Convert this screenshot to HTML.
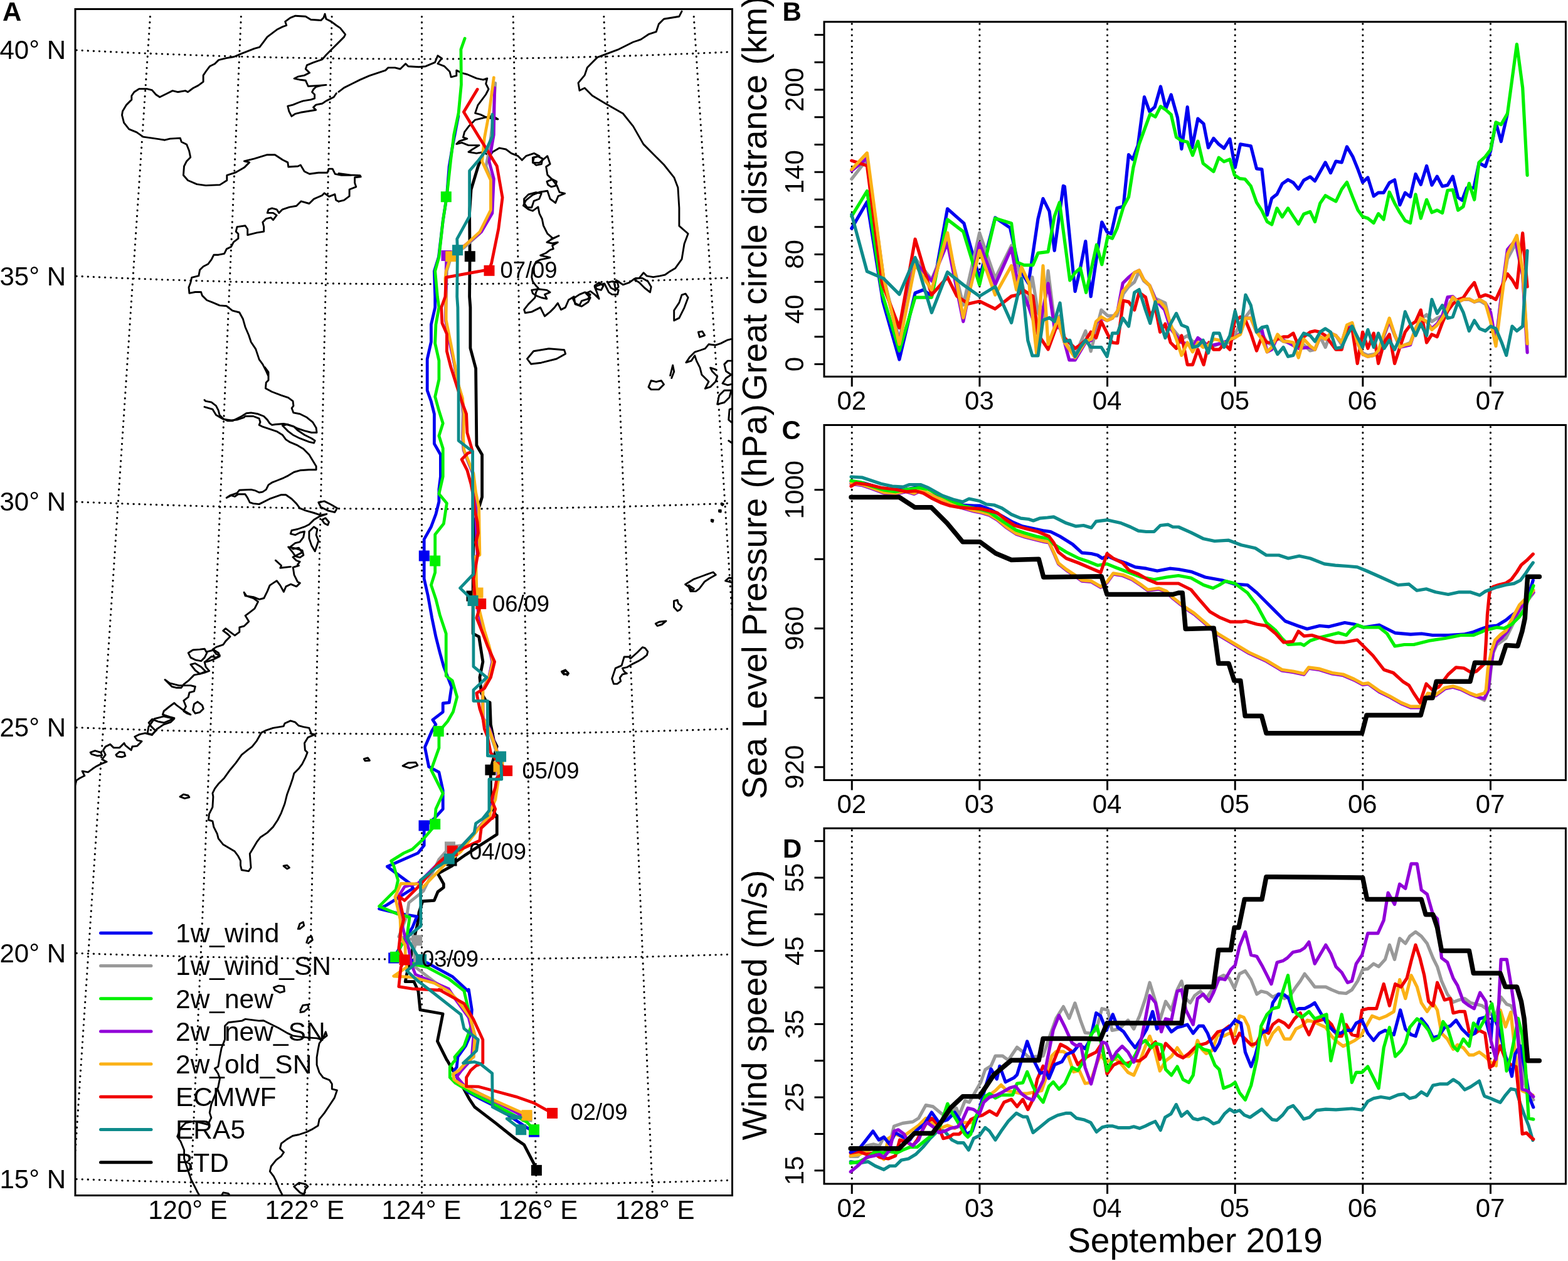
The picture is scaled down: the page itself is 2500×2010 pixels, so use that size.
<!DOCTYPE html><html><head><meta charset="utf-8"><style>html,body{margin:0;padding:0;background:#fff}svg{display:block}</style></head><body><svg xmlns="http://www.w3.org/2000/svg" width="2500" height="2010" viewBox="0 0 2500 2010">
<style>text{font-family:'Liberation Sans', Arial, Helvetica, sans-serif;fill:#000}.tl{font-size:42px}.tt{font-size:55px}.lt{font-size:42px;font-weight:bold}.lg{font-size:42.5px}.dl{font-size:36.4px}.frame{fill:none;stroke:#000;stroke-width:3}.tick{stroke:#000;stroke-width:3}.dot{stroke:#000;stroke-width:3.1;stroke-dasharray:0.3 8.8;stroke-linecap:round}.coast{fill:none;stroke:#000;stroke-width:2.9;stroke-linejoin:round;stroke-linecap:round}</style>
<rect width="2500" height="2010" fill="#fff"/>
<defs><clipPath id="clipA"><rect x="120.0" y="14.5" width="1047.5" height="1891.0"/></clipPath><clipPath id="clipT"><rect x="1314.0" y="0.0" width="1182.4" height="2010.0"/></clipPath></defs>
<g clip-path="url(#clipA)">
<polyline class="dot" fill="none" points="122.0,80.0 130.0,80.4 138.0,80.8 146.0,81.2 154.0,81.6 162.0,81.9 170.0,82.3 178.0,82.7 186.0,83.0 194.0,83.4 202.0,83.8 210.0,84.1 218.0,84.4 226.0,84.8 234.0,85.1 242.0,85.4 250.0,85.7 258.0,86.0 266.0,86.3 274.0,86.6 282.0,86.9 290.0,87.2 298.0,87.5 306.0,87.8 314.0,88.0 322.0,88.3 330.0,88.6 338.0,88.8 346.0,89.1 354.0,89.3 362.0,89.5 370.0,89.8 378.0,90.0 386.0,90.2 394.0,90.4 402.0,90.6 410.0,90.8 418.0,91.0 426.0,91.2 434.0,91.4 442.0,91.5 450.0,91.7 458.0,91.9 466.0,92.0 474.0,92.2 482.0,92.3 490.0,92.5 498.0,92.6 506.0,92.7 514.0,92.8 522.0,93.0 530.0,93.1 538.0,93.2 546.0,93.3 554.0,93.3 562.0,93.4 570.0,93.5 578.0,93.6 586.0,93.7 594.0,93.7 602.0,93.8 610.0,93.8 618.0,93.9 626.0,93.9 634.0,93.9 642.0,94.0 650.0,94.0 658.0,94.0 666.0,94.0 674.0,94.0 682.0,94.0 690.0,94.0 698.0,94.0 706.0,93.9 714.0,93.9 722.0,93.9 730.0,93.8 738.0,93.8 746.0,93.7 754.0,93.7 762.0,93.6 770.0,93.6 778.0,93.5 786.0,93.4 794.0,93.3 802.0,93.2 810.0,93.1 818.0,93.0 826.0,92.9 834.0,92.8 842.0,92.7 850.0,92.5 858.0,92.4 866.0,92.3 874.0,92.1 882.0,92.0 890.0,91.8 898.0,91.6 906.0,91.5 914.0,91.3 922.0,91.1 930.0,90.9 938.0,90.7 946.0,90.5 954.0,90.3 962.0,90.1 970.0,89.9 978.0,89.7 986.0,89.4 994.0,89.2 1002.0,89.0 1010.0,88.7 1018.0,88.5 1026.0,88.2 1034.0,87.9 1042.0,87.7 1050.0,87.4 1058.0,87.1 1066.0,86.8 1074.0,86.5 1082.0,86.2 1090.0,85.9 1098.0,85.6 1106.0,85.3 1114.0,85.0 1122.0,84.6 1130.0,84.3 1138.0,84.0 1146.0,83.6 1154.0,83.3 1162.0,82.9"/>
<polyline class="dot" fill="none" points="122.0,440.2 130.0,440.6 138.0,440.9 146.0,441.3 154.0,441.6 162.0,442.0 170.0,442.3 178.0,442.6 186.0,443.0 194.0,443.3 202.0,443.6 210.0,443.9 218.0,444.2 226.0,444.5 234.0,444.8 242.0,445.1 250.0,445.4 258.0,445.7 266.0,445.9 274.0,446.2 282.0,446.4 290.0,446.7 298.0,447.0 306.0,447.2 314.0,447.4 322.0,447.7 330.0,447.9 338.0,448.1 346.0,448.3 354.0,448.6 362.0,448.8 370.0,449.0 378.0,449.2 386.0,449.4 394.0,449.5 402.0,449.7 410.0,449.9 418.0,450.1 426.0,450.2 434.0,450.4 442.0,450.6 450.0,450.7 458.0,450.8 466.0,451.0 474.0,451.1 482.0,451.3 490.0,451.4 498.0,451.5 506.0,451.6 514.0,451.7 522.0,451.8 530.0,451.9 538.0,452.0 546.0,452.1 554.0,452.2 562.0,452.2 570.0,452.3 578.0,452.4 586.0,452.4 594.0,452.5 602.0,452.5 610.0,452.6 618.0,452.6 626.0,452.7 634.0,452.7 642.0,452.7 650.0,452.7 658.0,452.7 666.0,452.7 674.0,452.7 682.0,452.7 690.0,452.7 698.0,452.7 706.0,452.7 714.0,452.7 722.0,452.6 730.0,452.6 738.0,452.6 746.0,452.5 754.0,452.5 762.0,452.4 770.0,452.4 778.0,452.3 786.0,452.2 794.0,452.1 802.0,452.1 810.0,452.0 818.0,451.9 826.0,451.8 834.0,451.7 842.0,451.6 850.0,451.4 858.0,451.3 866.0,451.2 874.0,451.1 882.0,450.9 890.0,450.8 898.0,450.6 906.0,450.5 914.0,450.3 922.0,450.2 930.0,450.0 938.0,449.8 946.0,449.7 954.0,449.5 962.0,449.3 970.0,449.1 978.0,448.9 986.0,448.7 994.0,448.5 1002.0,448.3 1010.0,448.0 1018.0,447.8 1026.0,447.6 1034.0,447.3 1042.0,447.1 1050.0,446.9 1058.0,446.6 1066.0,446.4 1074.0,446.1 1082.0,445.8 1090.0,445.5 1098.0,445.3 1106.0,445.0 1114.0,444.7 1122.0,444.4 1130.0,444.1 1138.0,443.8 1146.0,443.5 1154.0,443.2 1162.0,442.8"/>
<polyline class="dot" fill="none" points="122.0,799.9 130.0,800.3 138.0,800.6 146.0,800.9 154.0,801.2 162.0,801.5 170.0,801.8 178.0,802.1 186.0,802.4 194.0,802.7 202.0,803.0 210.0,803.3 218.0,803.5 226.0,803.8 234.0,804.1 242.0,804.3 250.0,804.6 258.0,804.8 266.0,805.1 274.0,805.3 282.0,805.6 290.0,805.8 298.0,806.0 306.0,806.2 314.0,806.5 322.0,806.7 330.0,806.9 338.0,807.1 346.0,807.3 354.0,807.5 362.0,807.7 370.0,807.8 378.0,808.0 386.0,808.2 394.0,808.4 402.0,808.5 410.0,808.7 418.0,808.8 426.0,809.0 434.0,809.1 442.0,809.3 450.0,809.4 458.0,809.5 466.0,809.7 474.0,809.8 482.0,809.9 490.0,810.0 498.0,810.1 506.0,810.2 514.0,810.3 522.0,810.4 530.0,810.5 538.0,810.6 546.0,810.7 554.0,810.7 562.0,810.8 570.0,810.9 578.0,810.9 586.0,811.0 594.0,811.0 602.0,811.1 610.0,811.1 618.0,811.1 626.0,811.2 634.0,811.2 642.0,811.2 650.0,811.2 658.0,811.2 666.0,811.2 674.0,811.2 682.0,811.2 690.0,811.2 698.0,811.2 706.0,811.2 714.0,811.2 722.0,811.2 730.0,811.1 738.0,811.1 746.0,811.0 754.0,811.0 762.0,811.0 770.0,810.9 778.0,810.8 786.0,810.8 794.0,810.7 802.0,810.6 810.0,810.5 818.0,810.5 826.0,810.4 834.0,810.3 842.0,810.2 850.0,810.1 858.0,810.0 866.0,809.9 874.0,809.7 882.0,809.6 890.0,809.5 898.0,809.4 906.0,809.2 914.0,809.1 922.0,808.9 930.0,808.8 938.0,808.6 946.0,808.5 954.0,808.3 962.0,808.1 970.0,807.9 978.0,807.8 986.0,807.6 994.0,807.4 1002.0,807.2 1010.0,807.0 1018.0,806.8 1026.0,806.6 1034.0,806.4 1042.0,806.2 1050.0,805.9 1058.0,805.7 1066.0,805.5 1074.0,805.2 1082.0,805.0 1090.0,804.7 1098.0,804.5 1106.0,804.2 1114.0,804.0 1122.0,803.7 1130.0,803.4 1138.0,803.2 1146.0,802.9 1154.0,802.6 1162.0,802.3"/>
<polyline class="dot" fill="none" points="122.0,1159.7 130.0,1160.0 138.0,1160.3 146.0,1160.6 154.0,1160.9 162.0,1161.1 170.0,1161.4 178.0,1161.7 186.0,1161.9 194.0,1162.2 202.0,1162.5 210.0,1162.7 218.0,1163.0 226.0,1163.2 234.0,1163.5 242.0,1163.7 250.0,1163.9 258.0,1164.2 266.0,1164.4 274.0,1164.6 282.0,1164.8 290.0,1165.0 298.0,1165.2 306.0,1165.4 314.0,1165.6 322.0,1165.8 330.0,1166.0 338.0,1166.2 346.0,1166.4 354.0,1166.5 362.0,1166.7 370.0,1166.9 378.0,1167.0 386.0,1167.2 394.0,1167.4 402.0,1167.5 410.0,1167.7 418.0,1167.8 426.0,1167.9 434.0,1168.1 442.0,1168.2 450.0,1168.3 458.0,1168.4 466.0,1168.5 474.0,1168.7 482.0,1168.8 490.0,1168.9 498.0,1169.0 506.0,1169.1 514.0,1169.1 522.0,1169.2 530.0,1169.3 538.0,1169.4 546.0,1169.5 554.0,1169.5 562.0,1169.6 570.0,1169.6 578.0,1169.7 586.0,1169.7 594.0,1169.8 602.0,1169.8 610.0,1169.9 618.0,1169.9 626.0,1169.9 634.0,1169.9 642.0,1170.0 650.0,1170.0 658.0,1170.0 666.0,1170.0 674.0,1170.0 682.0,1170.0 690.0,1170.0 698.0,1170.0 706.0,1170.0 714.0,1169.9 722.0,1169.9 730.0,1169.9 738.0,1169.9 746.0,1169.8 754.0,1169.8 762.0,1169.7 770.0,1169.7 778.0,1169.6 786.0,1169.6 794.0,1169.5 802.0,1169.4 810.0,1169.4 818.0,1169.3 826.0,1169.2 834.0,1169.1 842.0,1169.0 850.0,1168.9 858.0,1168.8 866.0,1168.7 874.0,1168.6 882.0,1168.5 890.0,1168.4 898.0,1168.3 906.0,1168.1 914.0,1168.0 922.0,1167.9 930.0,1167.7 938.0,1167.6 946.0,1167.5 954.0,1167.3 962.0,1167.1 970.0,1167.0 978.0,1166.8 986.0,1166.7 994.0,1166.5 1002.0,1166.3 1010.0,1166.1 1018.0,1165.9 1026.0,1165.7 1034.0,1165.6 1042.0,1165.4 1050.0,1165.2 1058.0,1164.9 1066.0,1164.7 1074.0,1164.5 1082.0,1164.3 1090.0,1164.1 1098.0,1163.8 1106.0,1163.6 1114.0,1163.4 1122.0,1163.1 1130.0,1162.9 1138.0,1162.6 1146.0,1162.4 1154.0,1162.1 1162.0,1161.8"/>
<polyline class="dot" fill="none" points="122.0,1519.4 130.0,1519.7 138.0,1520.0 146.0,1520.2 154.0,1520.5 162.0,1520.8 170.0,1521.0 178.0,1521.3 186.0,1521.5 194.0,1521.8 202.0,1522.0 210.0,1522.2 218.0,1522.5 226.0,1522.7 234.0,1522.9 242.0,1523.1 250.0,1523.4 258.0,1523.6 266.0,1523.8 274.0,1524.0 282.0,1524.2 290.0,1524.4 298.0,1524.6 306.0,1524.7 314.0,1524.9 322.0,1525.1 330.0,1525.3 338.0,1525.5 346.0,1525.6 354.0,1525.8 362.0,1525.9 370.0,1526.1 378.0,1526.3 386.0,1526.4 394.0,1526.5 402.0,1526.7 410.0,1526.8 418.0,1527.0 426.0,1527.1 434.0,1527.2 442.0,1527.3 450.0,1527.4 458.0,1527.5 466.0,1527.7 474.0,1527.8 482.0,1527.9 490.0,1527.9 498.0,1528.0 506.0,1528.1 514.0,1528.2 522.0,1528.3 530.0,1528.4 538.0,1528.4 546.0,1528.5 554.0,1528.6 562.0,1528.6 570.0,1528.7 578.0,1528.7 586.0,1528.8 594.0,1528.8 602.0,1528.8 610.0,1528.9 618.0,1528.9 626.0,1528.9 634.0,1529.0 642.0,1529.0 650.0,1529.0 658.0,1529.0 666.0,1529.0 674.0,1529.0 682.0,1529.0 690.0,1529.0 698.0,1529.0 706.0,1529.0 714.0,1528.9 722.0,1528.9 730.0,1528.9 738.0,1528.9 746.0,1528.8 754.0,1528.8 762.0,1528.7 770.0,1528.7 778.0,1528.6 786.0,1528.6 794.0,1528.5 802.0,1528.5 810.0,1528.4 818.0,1528.3 826.0,1528.3 834.0,1528.2 842.0,1528.1 850.0,1528.0 858.0,1527.9 866.0,1527.8 874.0,1527.7 882.0,1527.6 890.0,1527.5 898.0,1527.4 906.0,1527.3 914.0,1527.2 922.0,1527.0 930.0,1526.9 938.0,1526.8 946.0,1526.6 954.0,1526.5 962.0,1526.3 970.0,1526.2 978.0,1526.0 986.0,1525.9 994.0,1525.7 1002.0,1525.6 1010.0,1525.4 1018.0,1525.2 1026.0,1525.0 1034.0,1524.9 1042.0,1524.7 1050.0,1524.5 1058.0,1524.3 1066.0,1524.1 1074.0,1523.9 1082.0,1523.7 1090.0,1523.5 1098.0,1523.3 1106.0,1523.1 1114.0,1522.8 1122.0,1522.6 1130.0,1522.4 1138.0,1522.1 1146.0,1521.9 1154.0,1521.7 1162.0,1521.4"/>
<polyline class="dot" fill="none" points="122.0,1879.5 130.0,1879.8 138.0,1880.0 146.0,1880.3 154.0,1880.6 162.0,1880.8 170.0,1881.1 178.0,1881.3 186.0,1881.5 194.0,1881.8 202.0,1882.0 210.0,1882.2 218.0,1882.5 226.0,1882.7 234.0,1882.9 242.0,1883.1 250.0,1883.3 258.0,1883.5 266.0,1883.7 274.0,1883.9 282.0,1884.1 290.0,1884.3 298.0,1884.5 306.0,1884.7 314.0,1884.8 322.0,1885.0 330.0,1885.2 338.0,1885.3 346.0,1885.5 354.0,1885.7 362.0,1885.8 370.0,1886.0 378.0,1886.1 386.0,1886.2 394.0,1886.4 402.0,1886.5 410.0,1886.6 418.0,1886.8 426.0,1886.9 434.0,1887.0 442.0,1887.1 450.0,1887.2 458.0,1887.3 466.0,1887.4 474.0,1887.5 482.0,1887.6 490.0,1887.7 498.0,1887.8 506.0,1887.9 514.0,1888.0 522.0,1888.1 530.0,1888.1 538.0,1888.2 546.0,1888.3 554.0,1888.3 562.0,1888.4 570.0,1888.4 578.0,1888.5 586.0,1888.5 594.0,1888.6 602.0,1888.6 610.0,1888.6 618.0,1888.7 626.0,1888.7 634.0,1888.7 642.0,1888.7 650.0,1888.7 658.0,1888.7 666.0,1888.7 674.0,1888.7 682.0,1888.7 690.0,1888.7 698.0,1888.7 706.0,1888.7 714.0,1888.7 722.0,1888.7 730.0,1888.6 738.0,1888.6 746.0,1888.6 754.0,1888.5 762.0,1888.5 770.0,1888.5 778.0,1888.4 786.0,1888.4 794.0,1888.3 802.0,1888.2 810.0,1888.2 818.0,1888.1 826.0,1888.0 834.0,1888.0 842.0,1887.9 850.0,1887.8 858.0,1887.7 866.0,1887.6 874.0,1887.5 882.0,1887.4 890.0,1887.3 898.0,1887.2 906.0,1887.1 914.0,1887.0 922.0,1886.9 930.0,1886.7 938.0,1886.6 946.0,1886.5 954.0,1886.3 962.0,1886.2 970.0,1886.1 978.0,1885.9 986.0,1885.8 994.0,1885.6 1002.0,1885.4 1010.0,1885.3 1018.0,1885.1 1026.0,1884.9 1034.0,1884.8 1042.0,1884.6 1050.0,1884.4 1058.0,1884.2 1066.0,1884.0 1074.0,1883.8 1082.0,1883.6 1090.0,1883.4 1098.0,1883.2 1106.0,1883.0 1114.0,1882.8 1122.0,1882.6 1130.0,1882.4 1138.0,1882.1 1146.0,1881.9 1154.0,1881.7 1162.0,1881.4"/>
<line class="dot" x1="239.45" y1="26.5" x2="115.44" y2="1905.5"/>
<line class="dot" x1="384.36" y1="26.5" x2="303.75" y2="1905.5"/>
<line class="dot" x1="529.09" y1="26.5" x2="486.06" y2="1905.5"/>
<line class="dot" x1="672.50" y1="26.5" x2="672.50" y2="1905.5"/>
<line class="dot" x1="818.22" y1="26.5" x2="855.43" y2="1905.5"/>
<line class="dot" x1="962.79" y1="26.5" x2="1040.40" y2="1905.5"/>
<line class="dot" x1="1106.20" y1="26.5" x2="1226.45" y2="1905.5"/>
<polyline class="coast" points="536.3,148.7 532.2,154.8 520.0,160.9 513.9,165.0 503.7,167.1 499.6,171.1 503.7,175.2 491.4,177.3 479.2,179.3 471.0,181.3 464.9,185.4 460.8,177.3 458.8,169.1 466.9,167.1 477.1,163.0 483.3,160.9 495.5,158.9 501.6,156.9 501.6,150.7 497.6,146.7 499.6,142.6 503.7,138.5 511.8,136.4 520.0,135.4 507.8,136.4 491.4,137.5 487.3,128.3 479.2,127.3 469.0,125.2 475.1,122.2 485.3,120.1 493.5,116.0 487.3,109.9 489.4,103.8 499.6,99.7 513.9,94.6 520.0,87.5 528.2,79.3 538.4,69.1 548.6,58.9 550.6,54.8 542.4,44.6 536.3,40.5 528.2,34.4 520.0,30.3 518.0,22.2 515.9,28.3 511.8,32.4 495.5,31.3 487.3,26.2 471.0,25.2 462.9,28.3 454.7,34.4 456.7,40.5 450.6,42.6 442.4,46.7 426.1,58.9 420.0,67.1 413.9,75.2 405.7,77.3 385.3,85.4 373.1,90.5 360.8,92.6 348.6,95.6 342.4,101.8 334.3,105.8 328.2,114.0 324.1,120.1 324.1,130.3 315.9,136.4 307.8,140.5 299.6,146.7 295.5,144.6 283.3,146.7 275.1,144.6 266.9,148.7 254.7,154.8 248.6,150.7 242.4,143.6 234.3,141.6 222.0,141.6 213.9,146.7 209.8,152.8 209.8,158.9 201.6,167.1 195.5,177.3 194.5,183.4 197.6,195.6 205.7,205.8 218.0,210.9 228.2,218.1 242.4,220.1 262.9,223.2 271.0,221.1 287.3,220.1 289.4,226.2 297.6,230.3 301.6,240.5 303.7,250.7 297.6,256.9 293.5,265.0 292.4,279.3 299.6,287.5 313.9,293.6 328.2,295.6 350.6,294.6 361.8,287.5 361.8,279.3 375.1,275.2 389.4,267.1 397.6,258.9 389.4,256.9 405.7,252.8 426.1,246.7 438.4,246.7 450.6,254.8 458.8,258.9 459.8,266.0 475.1,265.0 479.2,263.0 485.3,273.2 493.5,277.3 507.8,275.2 522.0,275.2 524.1,269.1 530.2,269.1 534.3,277.3 544.5,279.3 560.0,279.3 540.0,276.4 552.8,278.6 574.1,279.6 575.2,281.8 565.6,282.8 565.6,291.4 567.7,297.8 557.1,302.0 557.1,312.7 548.5,319.1 540.0,321.2"/>
<polyline class="coast" points="540.0,146.3 548.5,139.9 561.3,133.5 574.1,127.1 589.1,120.7 601.9,116.4 614.7,112.1 618.9,107.9 629.6,107.9 638.1,110.0 646.7,101.5 650.9,105.7 668.0,106.8 678.7,105.7 693.6,99.3 697.9,88.7 704.3,92.9 697.9,101.5 708.6,105.7 717.1,114.3 719.2,122.8 727.8,120.7 727.8,112.1 736.3,116.4 744.8,118.5 759.8,124.9 770.4,127.1 776.8,124.9 774.7,133.5 779.0,142.0 774.7,150.5 768.3,159.1 761.9,167.6 757.6,180.4 766.2,182.6 774.7,186.8 785.4,184.7 793.9,190.0 785.4,189.0 774.7,186.8 757.6,191.1 747.0,201.8 740.6,210.3 738.4,218.8 744.8,221.0 732.0,225.2 727.8,229.5 736.3,227.4 747.0,231.6 764.0,231.6 753.4,238.0 747.0,242.3 759.8,244.4 770.4,242.3 781.1,248.7 785.4,242.3 796.0,235.9 806.7,238.0 815.2,244.4 825.9,248.7 832.3,255.1 838.7,248.7 851.5,244.4 860.0,248.7 851.5,250.8 849.4,259.4 860.0,259.4 872.8,248.7 877.1,261.5 870.7,265.8 872.8,278.6 881.4,287.1 887.8,295.6 892.0,306.3 900.6,308.4 889.9,312.7 885.6,323.4 877.1,317.0 872.8,304.2 860.0,306.3 849.4,310.6 838.7,319.1 834.4,327.6 843.0,334.0 849.4,336.2 857.9,329.8 860.0,340.4 864.3,349.0 866.4,359.6 872.8,372.4 881.4,379.9 878.9,381.0 891.0,375.8 877.1,382.8 871.9,386.2 880.6,388.0 889.3,386.2 880.6,391.4 882.3,396.6 877.1,398.4 870.2,403.5 861.6,407.0 868.5,408.7 877.1,410.5 870.2,412.2 861.6,413.9 854.6,417.4 849.4,427.8 847.7,441.6 849.4,448.6 854.6,455.5 858.1,459.0 854.6,465.9 852.9,474.5 847.7,479.7 842.5,484.9 835.6,493.6 837.3,498.8 847.7,497.1 854.6,493.6 861.6,490.1 865.0,497.1 868.5,504.0 877.1,497.1 884.1,490.1 889.3,483.2 894.5,493.6 901.4,490.1 906.6,478.0 915.2,472.8 917.0,484.9 927.4,488.4 937.7,481.5 941.2,474.5 934.3,467.6 941.2,464.2 948.1,469.4 955.1,476.3 951.6,465.9 948.1,457.2 956.8,453.8 963.7,452.0 967.2,459.0 970.6,465.9 975.8,469.4 984.5,469.4 986.2,462.4 981.0,459.0 979.3,452.0 982.8,446.8 993.2,453.8 1003.5,450.3 1010.5,445.1 1019.1,443.4 1026.1,434.7 1031.3,439.9 1041.6,441.6 1052.0,439.9 1060.0,438.2 1066.6,433.6 1076.8,427.4 1087.0,413.2 1091.0,388.7 1097.1,372.5 1082.9,360.2 1082.9,331.7 1080.9,299.1 1074.7,282.8 1058.5,262.5 1042.2,246.2 1025.9,229.9 1009.6,201.4 993.3,181.0 964.8,164.7 944.4,152.5 932.2,140.3 924.0,144.3 922.0,132.1 932.2,119.9 936.3,107.7 944.4,99.5 952.5,91.4 985.1,79.2 1009.6,67.0 1021.8,62.9 1034.0,54.7 1046.2,50.7 1050.3,38.4 1058.5,30.3 1082.9,26.2 1087.0,18.1"/>
<polyline class="coast" points="840.5,572.0 850.7,559.8 875.2,555.8 899.6,557.8 901.6,563.9 887.4,572.0 862.9,578.2 846.6,580.2 840.5,572.0"/>
<polyline class="coast" points="1093.1,468.2 1097.1,474.3 1091.0,490.6 1082.9,506.9 1074.7,510.9 1074.7,494.7 1082.9,482.4 1087.0,470.2 1093.1,468.2"/>
<polyline class="coast" points="1113.4,529.3 1119.6,528.1 1123.6,534.6 1115.5,537.4 1113.4,529.3"/>
<polyline class="coast" points="1034.0,616.9 1038.1,606.7 1046.2,608.7 1054.4,606.7 1058.5,612.8 1050.3,620.9 1038.1,620.9 1034.0,616.9"/>
<polyline class="coast" points="1068.6,598.5 1072.7,582.2 1074.7,592.4 1070.7,602.6"/>
<polyline class="coast" points="540.0,321.2 535.7,319.0 533.9,309.7 524.6,313.4 517.2,307.8 513.5,311.5 500.5,317.1 493.0,324.5 480.1,320.8 472.6,328.2 461.5,330.1 450.4,333.8 444.8,339.4 441.1,333.8 433.7,331.9 428.1,333.8 426.3,339.4 435.5,339.4 441.1,343.1 435.5,350.5 431.8,346.8 424.4,348.6 418.8,354.2 420.7,361.6 420.7,369.1 409.6,370.9 394.7,374.6 394.7,365.3 391.0,359.8 378.0,361.6 376.2,369.1 379.9,372.8 379.9,380.2 372.4,385.8 368.7,393.2 361.3,396.9 357.6,404.3 348.3,406.2 340.9,406.2 337.2,413.6 331.6,421.0 324.2,424.7 318.6,430.3 316.8,439.6 305.7,442.3 303.8,450.7 301.0,458.1 301.9,467.4 311.2,465.5 320.5,465.5 322.4,471.1 329.8,478.5 339.1,482.2 350.2,486.9 361.3,487.8 370.6,495.2 381.7,498.0 387.3,508.2 391.0,521.2 396.6,534.2 400.3,545.3 407.7,556.4 413.3,573.1 418.8,580.6 424.4,591.7 428.1,600.0 422.4,585.6 428.0,593.0 428.0,606.0 424.3,609.7 423.4,619.0 433.6,624.5 448.4,630.1 459.6,633.8 467.0,639.4 467.9,646.8 465.1,650.5 467.9,657.9 478.1,659.8 489.2,665.3 498.5,672.8 504.1,682.0 505.0,689.5 496.7,689.5 485.5,686.7 474.4,683.0 467.0,679.3 457.7,676.5 452.1,675.5 439.1,676.5 433.6,677.4 429.9,674.6 426.2,669.1 420.6,663.5 411.3,659.8 400.2,657.9 392.8,658.8 385.3,663.5 377.9,667.2 370.5,670.9 363.1,670.9 355.7,667.2 350.1,661.6 348.2,654.2 344.5,646.8 337.1,641.2 327.8,639.4 326.0,637.5"/>
<polyline class="coast" points="326.0,648.6 339.0,652.4 344.5,661.6 355.7,668.1 368.6,670.0 377.9,669.1 389.1,665.3 390.9,663.5 403.9,663.5 413.2,667.2 415.0,672.8 413.2,677.4 418.7,680.2 429.9,683.9 441.0,687.6 450.3,693.2 455.8,700.6 461.4,704.3 474.4,709.9 483.7,715.4 492.9,724.7 498.5,734.0 504.1,743.3 504.1,748.8 492.9,748.8 478.1,749.8 468.8,752.5 459.6,758.1 452.1,761.8 442.9,765.5 433.6,769.2 428.0,772.9 424.3,780.4 418.7,784.1 413.2,785.0 407.6,782.2 400.2,780.4 381.6,781.3 377.9,785.9 372.4,787.8 366.8,789.6 361.2,793.4 368.6,789.6 374.2,791.5 379.8,787.8 390.9,787.8 394.6,793.4 398.3,800.8 403.9,802.6 413.2,803.6 429.9,795.2 448.4,788.7 455.8,788.7 465.1,795.2 472.5,802.6 478.1,810.1 487.4,813.8 500.4,817.5 511.5,821.2 520.8,819.3 509.6,823.0 500.4,828.6 492.9,836.0 485.5,839.7 474.4,843.5 465.1,845.3 463.3,850.9 470.7,852.7 478.1,849.0 485.5,847.2 483.7,856.4 478.1,863.9 470.7,865.7 463.3,871.3 467.0,875.0 476.3,873.1 481.8,880.6 474.4,884.3 467.0,888.0 472.5,893.5 478.1,895.4 474.4,900.0"/>
<polyline class="coast" points="450.3,678.3 457.7,676.5 468.8,680.2 474.4,685.8 485.5,693.2 496.7,698.7 502.2,702.4 500.4,706.2 492.9,704.3 478.1,698.7 467.0,693.2 459.6,687.6 454.0,682.0 450.3,678.3"/>
<polyline class="coast" points="507.8,800.8 517.1,798.9 528.2,804.5 537.5,810.1 533.8,816.5 522.6,813.8 511.5,808.2 507.8,800.8"/>
<polyline class="coast" points="513.4,828.6 518.9,825.8 524.5,832.3 522.6,837.0 517.1,834.2 513.4,828.6"/>
<polyline class="coast" points="492.9,847.2 500.4,839.7 505.9,843.5 504.1,852.7 507.8,862.0 504.1,873.1 502.2,878.7 496.7,869.4 492.9,858.3 492.9,847.2"/>
<polyline class="coast" points="476.4,901.5 467.2,904.3 469.0,916.4 474.6,927.5 478.3,929.4 472.7,934.9 463.5,931.2 456.0,934.9 452.3,943.3 446.8,933.1 441.2,925.7 435.6,929.4 430.1,933.1 426.3,942.4 420.8,953.5 413.4,955.3 404.1,951.6 391.1,949.8 389.2,944.2 392.9,949.8 404.1,953.5 411.5,959.1 405.9,970.2 398.5,975.8 391.1,981.3 396.7,990.6 389.2,998.0 381.8,999.9 381.8,1007.3 374.4,1012.9 367.0,1007.3 359.6,1001.7 355.8,1005.4 363.3,1011.0 367.0,1014.7 359.6,1022.1 355.8,1027.7 344.7,1031.4 339.1,1035.1 344.7,1042.5 350.3,1044.4 344.7,1048.1 337.3,1046.3 326.2,1055.5 328.0,1062.9 333.6,1069.4 326.2,1072.2 318.7,1074.1 309.5,1075.9 300.2,1085.2 292.8,1090.8 289.1,1096.3 281.6,1096.3 274.2,1094.5 263.1,1083.4 270.5,1088.9 285.3,1092.6 292.8,1092.6 303.9,1092.6 311.3,1094.5 309.5,1101.9 302.0,1103.8 300.2,1111.2 292.8,1116.8 296.5,1126.0 292.8,1133.5 298.3,1137.2 303.9,1139.0 294.6,1133.5 289.1,1129.7 281.6,1124.2 277.9,1120.5 270.5,1126.0 261.2,1133.5 259.4,1139.0 270.5,1142.7 277.9,1144.6 270.5,1148.3 261.2,1152.0 251.9,1150.1 242.7,1146.4 237.1,1152.0 240.8,1157.6 248.2,1165.0 242.7,1170.6 231.5,1168.7 222.3,1170.6 214.8,1174.3 218.6,1179.8 226.0,1181.7 218.6,1189.1 211.1,1190.0"/>
<polyline class="coast" points="439.3,893.2 448.6,901.5 446.8,905.3 463.5,903.4"/>
<polyline class="coast" points="459.7,871.9 469.0,873.7 482.0,877.4 483.9,884.8 478.3,888.6 470.9,886.7 467.2,881.1 459.7,871.9"/>
<polyline class="coast" points="300.2,1040.7 307.6,1036.0 318.7,1035.1 326.2,1034.2 329.9,1040.7 326.2,1048.1 320.6,1053.7 311.3,1051.8 303.9,1048.1 300.2,1040.7"/>
<polyline class="coast" points="329.9,1038.8 341.0,1036.0 348.4,1040.7 350.3,1046.3 342.9,1050.0 333.6,1053.7 326.2,1055.5"/>
<polyline class="coast" points="309.5,1122.3 315.0,1118.6 322.4,1124.2 324.3,1129.7 318.7,1135.3 311.3,1137.2 307.6,1131.6 309.5,1122.3"/>
<polyline class="coast" points="303.9,1059.2 311.3,1057.4 320.6,1062.9 328.0,1070.4 318.7,1074.1 311.3,1068.5 303.9,1059.2"/>
<polyline class="coast" points="416.8,1167.8 424.3,1164.1 435.4,1160.4 452.1,1157.6 454.0,1153.0 463.2,1148.9 470.6,1151.1 476.2,1156.7 483.6,1158.6 492.9,1160.4 496.6,1169.7 502.2,1170.6 491.1,1175.3 485.5,1184.5 486.4,1195.7 490.1,1199.4 487.3,1206.8 481.8,1217.9 476.2,1225.3 468.8,1232.8 466.9,1240.2 463.2,1251.3 457.7,1266.2 454.0,1281.0 448.4,1295.8 442.8,1307.0 435.4,1318.1 426.1,1327.4 415.0,1334.8 409.4,1342.2 403.9,1351.5 398.3,1360.8 399.2,1371.9 400.1,1383.0 396.4,1388.6 385.3,1386.8 383.5,1379.3 383.5,1371.9 379.7,1364.5 374.2,1357.1 364.9,1351.5 355.6,1345.9 348.2,1336.7 346.3,1329.2 340.8,1318.1 338.9,1308.8 332.4,1307.0 333.4,1297.7 338.9,1286.6 339.9,1269.9 338.9,1264.3 342.6,1256.9 348.2,1249.5 357.5,1240.2 366.8,1227.2 376.0,1216.1 385.3,1203.1 394.6,1195.7 402.0,1190.1 409.4,1180.8 416.8,1167.8"/>
<polyline class="coast" points="287.0,1269.9 292.5,1266.2 300.0,1268.0 301.8,1270.8 294.4,1272.7 287.0,1269.9"/>
<polyline class="coast" points="452.1,1380.3 457.7,1379.3 461.4,1383.0 457.7,1384.9 452.1,1380.3"/>
<polyline class="coast" points="210.9,1190.1 209.1,1195.7 199.8,1188.2 197.9,1184.5 190.5,1191.9 181.2,1191.9 175.7,1186.4 168.2,1190.1 164.5,1195.7 168.2,1203.1 162.7,1210.5 170.1,1214.2 160.8,1217.9 153.4,1221.6 147.8,1225.3 140.4,1230.9 131.1,1229.1 134.8,1236.5 127.4,1240.2 121.9,1243.9 120.0,1251.3"/>
<polyline class="coast" points="144.1,1199.4 151.5,1196.6 160.8,1199.4 162.7,1204.0 155.3,1204.9 146.0,1202.2 144.1,1199.4"/>
<polyline class="coast" points="184.9,1203.1 190.5,1198.4 197.9,1199.4 199.8,1204.9 194.2,1206.8 186.8,1205.9 184.9,1203.1"/>
<polyline class="coast" points="236.9,1158.6 246.2,1145.6 261.0,1141.9 277.7,1145.6 272.1,1151.1 261.0,1154.8 249.9,1162.3 242.4,1171.5 235.0,1169.7 236.9,1158.6"/>
<polyline class="coast" points="320.7,1910.0 315.3,1901.0 309.8,1890.2 304.4,1879.3 299.0,1863.1 293.6,1846.8 293.6,1833.2 288.1,1819.7 282.7,1811.5 288.1,1798.0 296.3,1789.8 309.8,1787.1 331.5,1792.5 336.9,1781.7 334.2,1773.6 336.9,1760.0 342.4,1746.4 347.8,1732.9 350.5,1719.3 347.8,1711.2 342.4,1703.1 347.8,1700.3 350.5,1684.1 353.2,1670.5 358.6,1656.9 358.6,1635.3 364.1,1629.8 385.8,1627.1 391.2,1624.4 412.9,1627.1 420.2,1626.7 432.3,1632.7 444.4,1638.8 458.6,1646.9 466.7,1650.9 480.8,1652.9 490.9,1653.9 505.1,1654.9 513.1,1657.0 521.2,1650.9 519.2,1644.8 515.2,1654.9 509.1,1663.0 507.1,1673.1 505.1,1685.3 505.1,1697.4 509.1,1709.5 515.2,1717.6 525.3,1721.6 529.3,1727.7 529.3,1735.8 537.4,1737.8 533.3,1749.9 525.3,1762.0 517.2,1774.1 509.1,1784.2 507.1,1794.3 497.0,1800.4 488.9,1804.4 476.8,1808.5 466.7,1810.5 456.6,1816.6 448.5,1822.6 446.5,1830.7 452.5,1836.8 448.5,1842.8 440.4,1848.9 432.3,1859.0 430.3,1867.1 436.4,1875.2 440.4,1883.2 444.4,1893.3 450.5,1905.5 451.5,1910.5"/>
<polyline class="coast" points="468.7,1891.3 476.8,1885.3 486.9,1887.3 490.9,1891.3 486.9,1895.4 484.8,1903.4 478.8,1901.4 472.7,1895.4 468.7,1891.3"/>
<polyline class="coast" points="436.4,1574.1 444.4,1571.1 452.5,1572.1 453.5,1580.2 446.5,1582.2 438.4,1578.2 436.4,1574.1"/>
<polyline class="coast" points="478.8,1610.5 482.8,1602.4 490.9,1601.4 491.9,1606.5 484.8,1612.5 478.8,1613.5"/>
<polyline class="coast" points="475.3,1480.7 478.0,1472.5 483.4,1469.8 484.7,1475.3 478.0,1480.7"/>
<polyline class="coast" points="488.8,1502.4 491.5,1494.2 496.9,1492.9 498.3,1498.3 491.5,1503.7"/>
<polyline class="coast" points="350.5,1910.0 355.9,1901.0 364.1,1902.4 369.5,1910.0"/>
<polyline class="coast" points="975.7,1081.8 981.3,1065.1 991.1,1060.9 995.2,1047.0 1003.6,1047.0 1005.0,1049.8 1016.1,1040.0 1024.4,1031.7 1028.6,1033.1 1032.8,1038.6 1031.4,1044.2 1024.4,1049.8 1017.5,1053.9 1009.1,1058.1 999.4,1063.7 992.4,1065.1 995.2,1070.6 999.4,1073.4 992.4,1074.8 988.3,1080.4 989.7,1085.9 984.1,1090.1 978.5,1090.1 975.7,1081.8"/>
<polyline class="coast" points="1074.5,957.9 1080.1,956.5 1081.5,962.1 1087.1,966.3 1084.3,971.8 1080.1,973.9 1074.5,967.7 1074.5,957.9"/>
<polyline class="coast" points="1045.3,994.1 1050.9,991.3 1062.0,989.9 1055.1,995.5 1048.1,997.6 1045.3,994.1"/>
<polyline class="coast" points="1092.6,931.5 1099.6,927.3 1106.5,923.1 1117.7,919.0 1128.8,914.8 1137.1,912.0 1141.3,916.2 1131.6,921.7 1123.2,927.3 1119.1,932.9 1114.9,938.4 1109.3,942.6 1101.0,942.6 1098.2,935.7 1092.6,931.5"/>
<polyline class="coast" points="1098.2,932.9 1106.5,938.4 1103.8,941.2 1099.6,937.0"/>
<polyline class="coast" points="896.4,1072.0 902.0,1069.2 906.2,1072.7 904.8,1076.2 896.4,1072.0"/>
<polyline class="coast" points="1156.6,925.9 1162.2,921.0 1167.8,921.7 1167.8,928.7 1156.6,925.9"/>
<polyline class="coast" points="1171.4,539.1 1160.3,541.8 1149.2,547.4 1140.9,550.2 1129.9,548.8 1124.3,555.7 1116.0,558.5 1107.7,561.2 1099.4,569.5 1093.9,577.9 1102.2,575.1 1107.7,566.8 1110.5,575.1 1116.0,586.2 1118.8,597.2 1129.9,608.3 1124.3,619.4 1132.6,616.6 1140.9,608.3 1143.7,600.0 1135.4,591.7 1132.6,586.2 1140.9,588.9"/>
<polyline class="coast" points="1171.4,575.1 1160.3,575.1 1154.8,580.6 1157.5,591.7 1165.9,597.2 1157.5,602.8 1152.0,611.1 1160.3,613.9 1171.4,611.1"/>
<polyline class="coast" points="1165.9,622.2 1154.8,622.2 1146.5,630.5 1143.7,644.3 1154.8,641.5 1163.1,633.2 1165.9,622.2"/>
<polyline class="coast" points="1171.4,649.9 1163.1,652.6 1161.7,669.2 1171.4,677.5"/>
<polyline class="coast" points="1161.7,702.5 1165.9,705.2 1171.4,710.8"/>
<polyline class="coast" points="1150.6,802.2 1153.4,803.6 1152.0,805.5 1150.1,804.1 1150.6,802.2"/>
<polyline class="coast" points="1146.5,813.2 1149.2,813.2 1149.2,816.0 1146.5,815.5 1146.5,813.2"/>
<polyline class="coast" points="1134.3,828.5 1137.1,829.0 1136.5,831.8 1134.3,831.0 1134.3,828.5"/>
<polyline class="coast" points="895.4,1070.3 901.5,1067.8 906.4,1073.9 899.0,1075.1 895.4,1070.3"/>
<polyline class="coast" points="642.1,1220.8 650.6,1215.9 662.9,1215.2 665.9,1220.1 653.7,1224.4 642.1,1220.8"/>
<polyline class="coast" points="580.3,1209.7 586.4,1207.9 589.4,1212.2 582.1,1212.8 580.3,1209.7"/>
<polyline class="coast" points="1010.5,445.1 1019.1,450.3 1027.8,459.0 1036.5,465.9 1038.2,457.2 1033.0,448.6 1024.3,443.4 1013.9,443.4 1010.5,445.1"/>
<polyline class="coast" points="847.7,462.4 858.1,460.7 871.9,462.4 877.1,465.9 868.5,469.4 871.9,476.3 863.3,474.5 854.6,471.1 849.4,467.6 847.7,462.4"/>
<polyline class="coast" points="913.5,476.3 923.9,469.4 932.6,465.9 941.2,469.4 937.7,476.3 927.4,479.7 923.9,486.7 917.0,483.2 913.5,476.3"/>
<polyline class="coast" points="948.1,455.5 955.1,450.3 962.0,455.5 958.5,462.4 951.6,460.7 948.1,455.5"/>
<polyline class="coast" points="849.4,251.2 858.1,249.4 865.0,252.9 863.3,261.6 854.6,263.3 849.4,258.1 849.4,251.2"/>
<polyline class="coast" points="835.6,317.0 842.5,310.0 854.6,306.6 863.3,308.3 859.8,317.0 851.2,320.4 847.7,330.8 840.8,330.8 835.6,323.9 835.6,317.0"/>
<polyline class="coast" points="871.9,289.3 880.6,285.8 887.5,289.3 885.8,296.2 878.9,297.9 873.7,294.5 871.9,289.3"/>
<polyline class="coast" points="968.9,450.3 975.8,448.6 984.5,450.3 986.2,457.2 981.0,462.4 974.1,459.0 968.9,450.3"/>
<polyline points="772.4,239.8 762.4,264.8 751.1,302.3 748.6,339.7 749.1,408.4 748.6,472.9 749.9,490.0 749.9,554.9 758.6,587.4 759.9,709.8 768.6,724.8 768.6,792.2 764.9,804.7 756.1,834.7 754.4,884.6 754.1,949.9 754.1,1009.9 763.6,1014.9 769.9,1054.8 764.9,1079.8 767.4,1104.8 774.9,1117.3 781.1,1119.8 782.4,1154.8 787.3,1179.7 792.3,1189.7 781.9,1227.2 782.4,1242.2 782.4,1279.6 792.3,1304.6 792.3,1300.0 792.3,1330.0 742.4,1362.4 721.1,1377.4 721.2,1380.0 698.1,1392.7 707.3,1408.9 707.3,1414.6 698.1,1421.5 692.3,1435.4 673.9,1436.5 668.1,1453.9 665.8,1472.3 662.3,1487.3 657.7,1512.7 648.5,1553.1 646.2,1564.7 660.0,1564.7 666.9,1580.0 669.9,1609.7 706.1,1616.0 697.4,1659.7 712.4,1689.6 712.9,1690.0 721.7,1705.3 734.8,1726.2 740.3,1737.1 748.0,1751.4 756.7,1764.5 789.6,1789.7 821.4,1815.0 835.7,1824.8 851.0,1854.4 855.4,1865.4" fill="none" stroke="#000000" stroke-width="4.8" stroke-linejoin="round" stroke-linecap="round" />
<rect x="740.8" y="400.2" width="17" height="17" fill="#000000"/>
<rect x="743.5" y="941.5" width="17" height="17" fill="#000000"/>
<rect x="773.4" y="1218.7" width="17" height="17" fill="#000000"/>
<rect x="711.5" y="1363.5" width="17" height="17" fill="#000000"/>
<rect x="846.9" y="1856.9" width="17" height="17" fill="#000000"/>
<polyline points="730.9,184.9 727.9,199.9 721.2,234.8 716.2,264.8 712.4,312.3 706.2,352.2 699.4,409.7 692.4,432.1 693.7,472.9 693.7,490.0 687.4,517.4 687.4,544.9 681.2,572.4 681.2,622.4 687.4,639.8 692.4,659.8 692.4,707.3 702.4,724.8 702.4,759.7 699.9,779.7 699.9,799.7 694.9,819.7 687.4,839.7 676.2,859.6 676.2,884.6 676.2,887.5 676.2,922.5 682.4,949.9 688.7,984.9 694.9,1014.9 701.2,1039.9 707.4,1062.3 719.9,1094.8 716.2,1119.8 706.2,1121.0 706.2,1134.8 689.9,1147.3 694.9,1154.8 688.7,1164.7 677.4,1191.0 683.7,1222.2 699.9,1230.9 706.2,1259.7 706.2,1289.6 692.4,1304.6 676.2,1317.5 676.2,1347.5 666.2,1359.9 617.5,1381.2 617.3,1381.2 653.1,1407.7 658.9,1415.8 616.2,1442.9 604.6,1448.7 633.5,1455.6 664.6,1460.8 657.7,1478.1 649.6,1490.8 627.7,1526.6 680.8,1534.6 721.2,1556.6 746.6,1580.0 747.3,1577.3 752.3,1609.7 749.8,1649.7 742.4,1667.2 729.9,1684.7 729.3,1690.0 728.2,1701.0 723.8,1706.4 732.6,1726.2 745.8,1740.4 765.5,1751.4 789.6,1763.4 840.0,1797.4 851.5,1804.0" fill="none" stroke="#0000f0" stroke-width="4.8" stroke-linejoin="round" stroke-linecap="round" />
<rect x="667.8" y="877.5" width="17" height="17" fill="#0000f0"/>
<rect x="667.5" y="1307.5" width="17" height="17" fill="#0000f0"/>
<rect x="619.2" y="1518.5" width="17" height="17" fill="#0000f0"/>
<rect x="843.0" y="1795.5" width="17" height="17" fill="#0000f0"/>
<polyline points="789.8,132.4 786.1,189.9 779.9,239.8 774.9,264.8 784.9,289.8 782.4,339.7 764.9,372.2 739.9,394.7 719.9,407.2 712.4,432.1 711.2,472.9 710.4,510.0 717.9,547.4 724.2,579.9 729.2,609.9 736.1,634.8 738.1,659.8 737.4,697.3 738.9,717.3 753.6,754.7 757.9,784.7 762.4,809.7 763.6,884.6 757.4,887.5 758.6,942.4 763.6,974.9 771.1,1004.9 778.6,1029.9 784.9,1054.8 779.9,1079.8 769.9,1099.8 769.4,1117.3 769.4,1144.8 778.6,1162.2 784.9,1179.7 793.6,1204.7 794.3,1242.2 788.6,1274.6 781.1,1292.1 778.6,1304.6 779.8,1300.0 759.8,1322.5 737.4,1347.5 717.4,1350.0 699.9,1369.9 675.0,1420.4 651.9,1438.9 648.5,1460.8 635.8,1493.1 664.6,1498.9 660.0,1512.7 662.3,1541.6 692.3,1564.7 715.4,1580.0 729.9,1594.7 749.8,1622.2 757.8,1652.2 755.3,1684.7 740.3,1696.6 731.5,1706.4 722.7,1711.9 723.8,1721.2 734.8,1728.9 756.7,1740.4 789.6,1755.8 831.3,1776.6 840.0,1781.0" fill="none" stroke="#999999" stroke-width="4.8" stroke-linejoin="round" stroke-linecap="round" />
<rect x="709.0" y="1341.5" width="17" height="17" fill="#999999"/>
<rect x="656.1" y="1490.4" width="17" height="17" fill="#999999"/>
<rect x="831.5" y="1771.5" width="17" height="17" fill="#999999"/>
<polyline points="741.1,61.2 734.9,78.7 735.4,134.9 731.1,179.9 723.7,214.8 718.7,254.8 712.4,312.3 706.2,352.2 699.9,409.7 693.7,432.1 697.4,472.9 699.9,490.0 694.9,517.4 693.7,547.4 699.9,574.9 699.9,604.9 693.7,632.3 699.9,654.8 706.2,674.8 699.9,694.8 706.2,714.8 706.2,759.7 699.9,787.2 712.4,802.2 707.4,834.7 693.7,852.1 693.7,884.6 693.7,895.0 693.7,912.5 687.4,932.5 694.9,954.9 701.2,979.9 711.2,1009.9 711.2,1077.3 721.2,1084.8 728.7,1111.0 722.4,1134.8 713.7,1149.8 699.9,1166.0 699.9,1192.2 687.4,1227.2 706.2,1264.7 694.9,1289.6 693.7,1304.6 693.6,1313.7 689.9,1320.0 674.9,1337.5 657.4,1353.7 643.7,1359.9 623.7,1372.4 627.7,1380.0 634.6,1403.1 631.2,1418.1 604.6,1444.6 633.5,1456.7 653.1,1461.9 649.6,1487.3 630.6,1526.0 664.6,1538.1 680.8,1541.6 715.4,1560.0 740.8,1580.0 739.9,1579.7 752.3,1632.2 739.9,1667.2 724.9,1684.7 726.0,1690.0 722.7,1693.3 717.3,1701.0 717.3,1717.4 726.0,1726.2 756.7,1744.8 789.6,1761.2 840.0,1788.7 851.5,1800.7" fill="none" stroke="#00f000" stroke-width="4.8" stroke-linejoin="round" stroke-linecap="round" />
<rect x="702.8" y="305.2" width="17" height="17" fill="#00f000"/>
<rect x="685.2" y="885.5" width="17" height="17" fill="#00f000"/>
<rect x="685.2" y="1305.2" width="17" height="17" fill="#00f000"/>
<rect x="690.7" y="1157.1" width="17" height="17" fill="#00f000"/>
<rect x="622.1" y="1516.9" width="17" height="17" fill="#00f000"/>
<rect x="843.0" y="1792.2" width="17" height="17" fill="#00f000"/>
<polyline points="788.6,139.9 787.3,214.8 779.9,257.3 787.3,284.8 784.9,339.7 767.4,369.7 739.9,392.2 711.9,407.2 711.2,432.1 711.2,472.9 710.4,510.0 717.4,547.4 724.4,579.9 729.4,609.9 736.9,634.8 739.4,659.8 737.9,697.3 739.4,717.3 754.1,754.7 757.4,784.7 758.6,814.7 759.9,859.6 761.1,884.6 758.6,887.5 758.6,942.4 762.4,974.9 771.1,1004.9 779.4,1029.9 784.9,1054.8 779.4,1079.8 769.4,1099.8 769.9,1117.3 770.4,1144.8 781.1,1162.2 786.8,1179.7 794.8,1204.7 793.6,1242.2 787.8,1274.6 779.9,1292.1 777.4,1304.6 779.8,1300.0 754.8,1330.0 729.9,1355.0 699.9,1374.9 666.9,1407.7 645.0,1413.5 636.9,1426.2 638.1,1460.8 646.2,1495.4 651.9,1512.7 655.4,1535.8 662.3,1553.1 715.4,1576.2 727.4,1594.7 747.3,1622.2 754.8,1652.2 752.3,1684.7 745.8,1695.5 734.8,1707.5 728.2,1716.3 740.3,1730.6 789.6,1755.8 831.3,1777.7" fill="none" stroke="#9100d8" stroke-width="4.8" stroke-linejoin="round" stroke-linecap="round" />
<rect x="703.5" y="399.0" width="17" height="17" fill="#9100d8"/>
<polyline points="787.3,123.7 779.9,179.9 772.4,219.8 768.6,257.3 782.4,287.3 782.4,334.7 764.9,369.7 737.4,394.7 718.7,408.4 711.2,432.1 709.9,444.6 711.2,472.9 711.2,510.0 718.7,547.4 724.9,579.9 729.9,609.9 737.4,634.8 739.9,659.8 738.6,697.3 739.9,717.3 754.9,754.7 758.6,784.7 763.6,809.7 764.9,884.6 758.6,887.5 759.9,942.4 764.9,974.9 772.4,1004.9 779.9,1029.9 786.1,1054.8 779.9,1079.8 769.9,1099.8 769.9,1117.3 769.9,1144.8 779.9,1162.2 786.1,1179.7 794.8,1204.7 794.8,1242.2 789.8,1274.6 782.4,1292.1 779.9,1304.6 779.8,1300.0 759.8,1325.0 734.9,1357.4 709.9,1377.4 673.9,1414.6 664.6,1408.9 639.2,1408.3 630.0,1429.6 638.1,1465.4 639.2,1495.4 646.2,1506.9 646.2,1522.0 648.5,1541.6 627.7,1556.0 657.7,1557.7 692.3,1567.0 715.4,1580.0 729.9,1594.7 749.8,1622.2 757.3,1652.2 754.8,1684.7 740.3,1696.6 731.5,1706.4 722.7,1711.9 723.8,1720.7 734.8,1728.4 756.7,1739.3 789.6,1754.7 831.3,1773.3 840.0,1777.7" fill="none" stroke="#fbb116" stroke-width="4.8" stroke-linejoin="round" stroke-linecap="round" />
<rect x="710.2" y="400.2" width="17" height="17" fill="#fbb116"/>
<rect x="753.5" y="936.5" width="17" height="17" fill="#fbb116"/>
<rect x="786.5" y="1213.5" width="17" height="17" fill="#fbb116"/>
<rect x="831.5" y="1769.2" width="17" height="17" fill="#fbb116"/>
<polyline points="761.1,142.4 739.4,178.6 759.9,212.3 772.4,232.3 792.3,264.8 801.1,314.8 794.8,364.7 783.6,419.7 779.9,429.6 711.2,442.1 709.9,472.9 703.7,490.0 704.9,515.0 712.4,532.4 712.4,559.9 718.7,584.9 727.4,612.4 736.1,639.8 743.6,659.8 744.9,689.8 753.6,719.8 746.1,722.3 736.1,732.3 744.9,749.7 751.1,772.2 754.9,792.2 756.1,809.7 761.1,832.2 762.4,849.6 758.6,864.6 762.4,882.1 761.1,887.5 754.9,922.5 757.4,954.9 766.6,962.4 759.9,984.9 769.9,1009.9 777.4,1029.9 788.6,1054.8 782.4,1079.8 772.4,1097.3 759.9,1104.8 764.9,1129.8 769.9,1144.8 772.4,1162.2 777.4,1174.7 782.4,1199.7 792.3,1212.2 808.6,1228.4 792.3,1239.7 789.8,1254.7 783.6,1274.6 789.8,1289.6 784.9,1304.6 788.6,1300.0 767.3,1320.0 764.8,1340.0 732.4,1355.0 721.1,1356.2 699.9,1374.9 669.2,1411.2 645.0,1435.4 635.8,1428.5 643.9,1465.4 639.2,1481.6 635.8,1511.6 645.0,1530.0 639.2,1541.6 635.8,1572.7 657.7,1576.2 703.9,1578.5 699.9,1577.3 739.9,1599.7 754.8,1624.7 769.8,1657.2 769.8,1694.6 758.9,1698.8 750.2,1706.4 743.6,1717.4 743.6,1731.7 763.3,1732.2 789.6,1739.3 822.5,1748.1 851.0,1758.0 880.6,1774.4" fill="none" stroke="#f00000" stroke-width="4.8" stroke-linejoin="round" stroke-linecap="round" />
<rect x="771.5" y="422.8" width="17" height="17" fill="#f00000"/>
<rect x="758.2" y="954.0" width="17" height="17" fill="#f00000"/>
<rect x="800.1" y="1220.1" width="17" height="17" fill="#f00000"/>
<rect x="712.8" y="1347.8" width="17" height="17" fill="#f00000"/>
<rect x="636.5" y="1521.5" width="17" height="17" fill="#f00000"/>
<rect x="872.1" y="1765.9" width="17" height="17" fill="#f00000"/>
<polyline points="784.9,182.4 784.9,217.3 774.9,239.8 763.6,254.8 748.6,272.3 748.6,344.7 728.7,380.9 729.4,398.4 728.7,472.9 729.9,490.0 731.1,619.9 731.1,702.3 753.6,719.8 753.6,884.6 753.6,887.5 754.9,915.0 733.6,937.4 754.1,957.4 754.9,987.4 754.9,1062.3 776.1,1079.8 754.9,1099.8 754.9,1117.3 777.4,1117.3 777.4,1204.7 798.6,1206.0 799.8,1242.2 779.9,1242.2 779.9,1292.1 769.9,1304.6 777.3,1300.0 758.6,1312.5 756.1,1327.5 734.9,1350.0 716.1,1368.7 697.4,1382.4 699.2,1380.0 670.4,1403.1 671.0,1475.8 648.5,1494.3 664.6,1522.0 671.6,1529.5 648.5,1547.3 664.6,1562.3 687.7,1580.0 734.9,1617.2 739.9,1639.7 762.3,1657.2 759.8,1674.7 738.6,1694.6 756.7,1692.7 765.5,1695.5 784.7,1710.8 785.2,1764.5 806.1,1775.5 830.2,1781.0 808.2,1783.2 822.5,1794.1 830.7,1800.7" fill="none" stroke="#0e8b8b" stroke-width="4.8" stroke-linejoin="round" stroke-linecap="round" />
<rect x="721.0" y="390.2" width="17" height="17" fill="#0e8b8b"/>
<rect x="745.5" y="949.0" width="17" height="17" fill="#0e8b8b"/>
<rect x="790.1" y="1197.5" width="17" height="17" fill="#0e8b8b"/>
<rect x="707.8" y="1360.5" width="17" height="17" fill="#0e8b8b"/>
<rect x="663.1" y="1521.0" width="17" height="17" fill="#0e8b8b"/>
<rect x="822.2" y="1792.2" width="17" height="17" fill="#0e8b8b"/>
</g>
<rect x="120.0" y="14.5" width="1047.5" height="1891.0" class="frame"/>
<text class="tl" text-anchor="end" x="105" y="94.4">40° N</text>
<text class="tl" text-anchor="end" x="105" y="454.6">35° N</text>
<text class="tl" text-anchor="end" x="105" y="814.4">30° N</text>
<text class="tl" text-anchor="end" x="105" y="1174.1">25° N</text>
<text class="tl" text-anchor="end" x="105" y="1533.8">20° N</text>
<text class="tl" text-anchor="end" x="105" y="1893.9">15° N</text>
<text class="tl" text-anchor="middle" x="299.5" y="1942.5">120° E</text>
<text class="tl" text-anchor="middle" x="485.7" y="1942.5">122° E</text>
<text class="tl" text-anchor="middle" x="671.9" y="1942.5">124° E</text>
<text class="tl" text-anchor="middle" x="858.1" y="1942.5">126° E</text>
<text class="tl" text-anchor="middle" x="1044.3" y="1942.5">128° E</text>
<text class="lt" x="4" y="33">A</text>
<text class="dl" x="797.5" y="442.5">07/09</text>
<text class="dl" x="785" y="975">06/09</text>
<text class="dl" x="832.5" y="1241">05/09</text>
<text class="dl" x="748" y="1370">04/09</text>
<text class="dl" x="672" y="1541">03/09</text>
<text class="dl" x="909.5" y="1785">02/09</text>
<line x1="160.5" y1="1487.3" x2="241" y2="1487.3" stroke="#0000f0" stroke-width="5" stroke-linecap="round"/>
<text class="lg" x="280" y="1502.1">1w_wind</text>
<line x1="160.5" y1="1539.5" x2="241" y2="1539.5" stroke="#999999" stroke-width="5" stroke-linecap="round"/>
<text class="lg" x="280" y="1554.3">1w_wind_SN</text>
<line x1="160.5" y1="1591.7" x2="241" y2="1591.7" stroke="#00f000" stroke-width="5" stroke-linecap="round"/>
<text class="lg" x="280" y="1606.5">2w_new</text>
<line x1="160.5" y1="1643.9" x2="241" y2="1643.9" stroke="#9100d8" stroke-width="5" stroke-linecap="round"/>
<text class="lg" x="280" y="1658.7">2w_new_SN</text>
<line x1="160.5" y1="1696.1" x2="241" y2="1696.1" stroke="#fbb116" stroke-width="5" stroke-linecap="round"/>
<text class="lg" x="280" y="1710.9">2w_old_SN</text>
<line x1="160.5" y1="1748.3" x2="241" y2="1748.3" stroke="#f00000" stroke-width="5" stroke-linecap="round"/>
<text class="lg" x="280" y="1763.1">ECMWF</text>
<line x1="160.5" y1="1800.5" x2="241" y2="1800.5" stroke="#0e8b8b" stroke-width="5" stroke-linecap="round"/>
<text class="lg" x="280" y="1815.3">ERA5</text>
<line x1="160.5" y1="1852.7" x2="241" y2="1852.7" stroke="#000000" stroke-width="5" stroke-linecap="round"/>
<text class="lg" x="280" y="1867.5">BTD</text>
<line x1="1358.25" y1="37.80" x2="1358.25" y2="597.30" class="dot"/>
<line x1="1561.90" y1="37.80" x2="1561.90" y2="597.30" class="dot"/>
<line x1="1765.55" y1="37.80" x2="1765.55" y2="597.30" class="dot"/>
<line x1="1969.20" y1="37.80" x2="1969.20" y2="597.30" class="dot"/>
<line x1="2172.85" y1="37.80" x2="2172.85" y2="597.30" class="dot"/>
<line x1="2376.50" y1="37.80" x2="2376.50" y2="597.30" class="dot"/>
<rect x="1314.0" y="34.8" width="1182.40" height="565.50" class="frame"/>
<line x1="1298.50" y1="580.50" x2="1314.0" y2="580.50" class="tick"/>
<line x1="1298.50" y1="536.75" x2="1314.0" y2="536.75" class="tick"/>
<line x1="1298.50" y1="493.00" x2="1314.0" y2="493.00" class="tick"/>
<line x1="1298.50" y1="449.25" x2="1314.0" y2="449.25" class="tick"/>
<line x1="1298.50" y1="405.50" x2="1314.0" y2="405.50" class="tick"/>
<line x1="1298.50" y1="361.75" x2="1314.0" y2="361.75" class="tick"/>
<line x1="1298.50" y1="318.00" x2="1314.0" y2="318.00" class="tick"/>
<line x1="1298.50" y1="274.25" x2="1314.0" y2="274.25" class="tick"/>
<line x1="1298.50" y1="230.50" x2="1314.0" y2="230.50" class="tick"/>
<line x1="1298.50" y1="186.75" x2="1314.0" y2="186.75" class="tick"/>
<line x1="1298.50" y1="143.00" x2="1314.0" y2="143.00" class="tick"/>
<line x1="1298.50" y1="99.25" x2="1314.0" y2="99.25" class="tick"/>
<line x1="1298.50" y1="55.50" x2="1314.0" y2="55.50" class="tick"/>
<text class="tl" text-anchor="middle" transform="translate(1281.3,580.50) rotate(-90)">0</text>
<text class="tl" text-anchor="middle" transform="translate(1281.3,493.00) rotate(-90)">40</text>
<text class="tl" text-anchor="middle" transform="translate(1281.3,405.50) rotate(-90)">80</text>
<text class="tl" text-anchor="middle" transform="translate(1281.3,274.25) rotate(-90)">140</text>
<text class="tl" text-anchor="middle" transform="translate(1281.3,143.00) rotate(-90)">200</text>
<line x1="1358.25" y1="600.3" x2="1358.25" y2="616.30" class="tick"/>
<text class="tl" text-anchor="middle" x="1357.75" y="652.80">02</text>
<line x1="1561.90" y1="600.3" x2="1561.90" y2="616.30" class="tick"/>
<text class="tl" text-anchor="middle" x="1561.40" y="652.80">03</text>
<line x1="1765.55" y1="600.3" x2="1765.55" y2="616.30" class="tick"/>
<text class="tl" text-anchor="middle" x="1765.05" y="652.80">04</text>
<line x1="1969.20" y1="600.3" x2="1969.20" y2="616.30" class="tick"/>
<text class="tl" text-anchor="middle" x="1968.70" y="652.80">05</text>
<line x1="2172.85" y1="600.3" x2="2172.85" y2="616.30" class="tick"/>
<text class="tl" text-anchor="middle" x="2172.35" y="652.80">06</text>
<line x1="2376.50" y1="600.3" x2="2376.50" y2="616.30" class="tick"/>
<text class="tl" text-anchor="middle" x="2376.00" y="652.80">07</text>
<text class="tt" text-anchor="middle" transform="translate(1222,316.05) rotate(-90)">Great circle distrance (km)</text>
<text class="lt" x="1247.5" y="33">B</text>
<line x1="1358.25" y1="680.50" x2="1358.25" y2="1240.50" class="dot"/>
<line x1="1561.90" y1="680.50" x2="1561.90" y2="1240.50" class="dot"/>
<line x1="1765.55" y1="680.50" x2="1765.55" y2="1240.50" class="dot"/>
<line x1="1969.20" y1="680.50" x2="1969.20" y2="1240.50" class="dot"/>
<line x1="2172.85" y1="680.50" x2="2172.85" y2="1240.50" class="dot"/>
<line x1="2376.50" y1="680.50" x2="2376.50" y2="1240.50" class="dot"/>
<rect x="1314.0" y="677.5" width="1182.40" height="566.00" class="frame"/>
<line x1="1298.50" y1="1222.75" x2="1314.0" y2="1222.75" class="tick"/>
<line x1="1298.50" y1="1112.25" x2="1314.0" y2="1112.25" class="tick"/>
<line x1="1298.50" y1="1001.75" x2="1314.0" y2="1001.75" class="tick"/>
<line x1="1298.50" y1="891.25" x2="1314.0" y2="891.25" class="tick"/>
<line x1="1298.50" y1="780.75" x2="1314.0" y2="780.75" class="tick"/>
<text class="tl" text-anchor="middle" transform="translate(1281.3,1222.75) rotate(-90)">920</text>
<text class="tl" text-anchor="middle" transform="translate(1281.3,1001.75) rotate(-90)">960</text>
<text class="tl" text-anchor="middle" transform="translate(1281.3,780.75) rotate(-90)">1000</text>
<line x1="1358.25" y1="1243.5" x2="1358.25" y2="1259.50" class="tick"/>
<text class="tl" text-anchor="middle" x="1357.75" y="1296.00">02</text>
<line x1="1561.90" y1="1243.5" x2="1561.90" y2="1259.50" class="tick"/>
<text class="tl" text-anchor="middle" x="1561.40" y="1296.00">03</text>
<line x1="1765.55" y1="1243.5" x2="1765.55" y2="1259.50" class="tick"/>
<text class="tl" text-anchor="middle" x="1765.05" y="1296.00">04</text>
<line x1="1969.20" y1="1243.5" x2="1969.20" y2="1259.50" class="tick"/>
<text class="tl" text-anchor="middle" x="1968.70" y="1296.00">05</text>
<line x1="2172.85" y1="1243.5" x2="2172.85" y2="1259.50" class="tick"/>
<text class="tl" text-anchor="middle" x="2172.35" y="1296.00">06</text>
<line x1="2376.50" y1="1243.5" x2="2376.50" y2="1259.50" class="tick"/>
<text class="tl" text-anchor="middle" x="2376.00" y="1296.00">07</text>
<text class="tt" text-anchor="middle" transform="translate(1222,959.00) rotate(-90)">Sea Level Pressure (hPa)</text>
<text class="lt" x="1246.5" y="700">C</text>
<line x1="1358.25" y1="1323.30" x2="1358.25" y2="1884.00" class="dot"/>
<line x1="1561.90" y1="1323.30" x2="1561.90" y2="1884.00" class="dot"/>
<line x1="1765.55" y1="1323.30" x2="1765.55" y2="1884.00" class="dot"/>
<line x1="1969.20" y1="1323.30" x2="1969.20" y2="1884.00" class="dot"/>
<line x1="2172.85" y1="1323.30" x2="2172.85" y2="1884.00" class="dot"/>
<line x1="2376.50" y1="1323.30" x2="2376.50" y2="1884.00" class="dot"/>
<rect x="1314.0" y="1320.3" width="1182.40" height="566.70" class="frame"/>
<line x1="1298.50" y1="1865.80" x2="1314.0" y2="1865.80" class="tick"/>
<line x1="1298.50" y1="1807.45" x2="1314.0" y2="1807.45" class="tick"/>
<line x1="1298.50" y1="1749.10" x2="1314.0" y2="1749.10" class="tick"/>
<line x1="1298.50" y1="1690.75" x2="1314.0" y2="1690.75" class="tick"/>
<line x1="1298.50" y1="1632.40" x2="1314.0" y2="1632.40" class="tick"/>
<line x1="1298.50" y1="1574.05" x2="1314.0" y2="1574.05" class="tick"/>
<line x1="1298.50" y1="1515.70" x2="1314.0" y2="1515.70" class="tick"/>
<line x1="1298.50" y1="1457.35" x2="1314.0" y2="1457.35" class="tick"/>
<line x1="1298.50" y1="1399.00" x2="1314.0" y2="1399.00" class="tick"/>
<line x1="1298.50" y1="1340.65" x2="1314.0" y2="1340.65" class="tick"/>
<text class="tl" text-anchor="middle" transform="translate(1281.3,1865.80) rotate(-90)">15</text>
<text class="tl" text-anchor="middle" transform="translate(1281.3,1749.10) rotate(-90)">25</text>
<text class="tl" text-anchor="middle" transform="translate(1281.3,1632.40) rotate(-90)">35</text>
<text class="tl" text-anchor="middle" transform="translate(1281.3,1515.70) rotate(-90)">45</text>
<text class="tl" text-anchor="middle" transform="translate(1281.3,1399.00) rotate(-90)">55</text>
<line x1="1358.25" y1="1887.0" x2="1358.25" y2="1903.00" class="tick"/>
<text class="tl" text-anchor="middle" x="1357.75" y="1939.50">02</text>
<line x1="1561.90" y1="1887.0" x2="1561.90" y2="1903.00" class="tick"/>
<text class="tl" text-anchor="middle" x="1561.40" y="1939.50">03</text>
<line x1="1765.55" y1="1887.0" x2="1765.55" y2="1903.00" class="tick"/>
<text class="tl" text-anchor="middle" x="1765.05" y="1939.50">04</text>
<line x1="1969.20" y1="1887.0" x2="1969.20" y2="1903.00" class="tick"/>
<text class="tl" text-anchor="middle" x="1968.70" y="1939.50">05</text>
<line x1="2172.85" y1="1887.0" x2="2172.85" y2="1903.00" class="tick"/>
<text class="tl" text-anchor="middle" x="2172.35" y="1939.50">06</text>
<line x1="2376.50" y1="1887.0" x2="2376.50" y2="1903.00" class="tick"/>
<text class="tl" text-anchor="middle" x="2376.00" y="1939.50">07</text>
<text class="tt" text-anchor="middle" transform="translate(1222,1602.15) rotate(-90)">Wind speed (m/s)</text>
<text class="lt" x="1248" y="1366.5">D</text>
<text class="tt" text-anchor="middle" x="1905.5" y="1996.3">September 2019</text>
<polyline points="1357.8,364.1 1382.4,321.7 1407.6,480.2 1433.9,573.0 1459.1,467.0 1472.2,462.0 1485.4,472.1 1510.6,332.8 1536.9,356.0 1561.7,443.8 1586.7,346.9 1610.5,363.1 1624.7,427.7 1639.8,451.9 1655.0,348.9 1663.0,316.6 1673.1,336.8 1681.2,399.4 1695.3,296.4 1697.4,297.4 1714.1,464.4 1722.5,427.3 1730.8,384.6 1739.2,472.7 1756.8,354.0 1765.1,369.8 1771.6,372.6 1780.9,331.7 1791.1,329.0 1799.5,246.6 1806.0,254.0 1814.3,231.7 1824.5,154.7 1832.9,177.9 1841.2,170.5 1850.5,138.0 1858.8,173.3 1867.2,151.0 1877.4,187.2 1883.9,237.3 1893.2,170.5 1900.6,235.4 1909.9,189.1 1919.1,197.4 1926.5,235.4 1934.9,220.6 1943.2,229.9 1951.6,236.4 1960.9,221.5 1969.2,267.0 1977.6,229.9 1994.3,232.7 2003.5,268.8 2011.9,269.8 2020.2,343.0 2027.7,316.1 2036.0,309.6 2044.4,292.9 2053.6,286.5 2062.0,291.1 2070.3,301.3 2078.7,287.4 2088.9,281.8 2096.5,288.6 2104.8,273.8 2113.2,258.9 2121.5,275.6 2129.9,257.1 2139.2,258.9 2147.5,233.9 2156.8,249.6 2165.1,270.1 2172.6,290.5 2180.9,283.0 2190.2,312.7 2197.6,307.2 2206.0,307.2 2215.2,291.4 2223.6,286.8 2231.9,326.6 2240.3,307.2 2248.6,313.7 2257.0,277.5 2265.3,294.2 2274.6,264.5 2282.9,295.1 2291.3,281.2 2299.6,297.0 2308.0,295.1 2316.3,281.2 2324.7,314.6 2331.2,319.2 2338.6,299.7 2349.7,299.7 2358.1,259.9 2368.3,265.4 2376.6,240.4 2385.0,195.8 2393.3,225.5 2403.5,181.0" fill="none" stroke="#0000f0" stroke-width="5.2" stroke-linejoin="round" stroke-linecap="round" />
<polyline points="1357.8,285.3 1382.4,254.0 1408.6,441.8 1433.9,542.8 1459.1,411.5 1485.4,445.8 1510.6,383.3 1535.8,486.2 1561.7,371.1 1586.7,443.8 1612.6,391.3 1624.7,431.7 1637.8,486.2 1645.9,441.8 1655.0,498.3 1663.0,512.5 1671.1,431.7 1681.2,512.5 1690.0,503.4 1697.4,546.0 1714.1,566.4 1730.8,527.5 1739.2,559.9 1755.9,494.1 1766.1,503.4 1780.9,503.4 1791.1,468.1 1799.5,457.0 1808.7,449.6 1816.2,432.9 1823.6,447.7 1832.9,455.1 1842.1,475.5 1849.6,479.2 1857.9,482.9 1866.3,520.1 1875.5,531.2 1883.9,540.5 1893.2,534.9 1901.5,544.2 1909.9,546.0 1918.2,549.7 1927.5,553.5 1934.9,551.6 1944.2,547.9 1951.6,549.7 1960.9,544.2 1968.3,534.9 1977.6,514.5 1985.9,505.2 1994.3,494.1 2003.5,527.5 2011.9,531.2 2020.2,546.0 2027.7,549.7 2036.9,538.6 2046.2,544.2 2053.6,546.0 2062.0,547.9 2070.3,549.7 2078.7,549.7 2088.9,559.0 2096.5,557.2 2104.8,536.8 2113.2,553.5 2121.5,531.2 2129.9,534.9 2139.2,549.7 2147.5,520.1 2155.9,518.2 2164.2,546.0 2172.6,562.7 2180.9,566.4 2190.2,564.6 2197.6,562.7 2206.9,534.9 2215.2,512.6 2223.6,534.9 2231.9,551.6 2240.3,549.7 2248.6,546.0 2257.0,523.8 2265.3,508.9 2274.6,501.5 2282.9,512.6 2291.3,507.1 2299.6,503.4 2308.0,488.5 2316.3,475.5 2324.7,481.1 2333.0,477.4 2342.3,477.4 2350.7,481.1 2359.0,479.2 2368.3,484.8 2376.6,503.4 2385.0,546.0 2394.3,466.3 2403.5,412.4 2416.5,388.3 2427.7,438.4 2435.1,549.7" fill="none" stroke="#999999" stroke-width="5.2" stroke-linejoin="round" stroke-linecap="round" />
<polyline points="1357.8,344.9 1382.4,304.5 1406.6,468.0 1433.9,558.9 1459.1,474.1 1485.4,474.1 1510.6,349.9 1535.8,369.1 1561.7,453.9 1586.7,347.9 1612.6,356.0 1620.6,417.6 1632.8,422.6 1646.9,422.6 1655.0,403.4 1671.1,401.4 1681.2,344.9 1689.3,322.7 1705.8,446.8 1714.1,434.7 1722.5,427.3 1731.7,466.3 1748.4,390.2 1756.8,421.7 1766.1,377.2 1773.5,380.0 1780.9,364.2 1791.1,329.9 1799.5,314.1 1806.9,267.0 1816.2,229.9 1823.6,209.5 1833.8,181.6 1842.1,186.3 1850.5,169.6 1858.8,175.1 1867.2,182.6 1875.5,218.7 1883.9,224.3 1893.2,226.2 1901.5,247.5 1909.9,225.2 1918.2,260.5 1934.9,273.5 1943.2,251.2 1951.6,257.7 1960.9,254.0 1968.3,279.0 1976.6,284.6 1985.0,285.5 1994.3,296.7 2003.5,322.6 2011.9,335.6 2020.2,353.2 2027.7,357.9 2036.0,331.9 2044.4,345.8 2053.6,331.9 2062.0,344.9 2070.3,357.0 2078.7,341.2 2088.9,337.5 2096.5,353.5 2104.8,323.9 2113.2,311.8 2121.5,316.4 2129.9,321.1 2139.2,301.6 2147.5,290.5 2156.8,314.6 2165.1,335.0 2172.6,345.2 2180.9,348.0 2190.2,355.4 2197.6,340.6 2206.0,349.8 2215.2,306.2 2223.6,323.9 2231.9,338.7 2240.3,351.7 2248.6,355.4 2257.0,309.9 2265.3,348.0 2274.6,318.3 2282.9,338.7 2291.3,335.0 2299.6,339.6 2308.0,303.5 2316.3,302.5 2324.7,335.0 2333.0,329.4 2342.3,292.3 2350.7,318.3 2358.1,258.9 2368.3,249.6 2376.6,238.5 2385.0,194.9 2393.3,198.6 2403.5,181.0 2418.4,70.6 2427.7,140.2 2435.1,279.3" fill="none" stroke="#00f000" stroke-width="5.2" stroke-linejoin="round" stroke-linecap="round" />
<polyline points="1357.8,272.2 1382.4,252.0 1408.6,443.8 1433.9,546.8 1459.1,417.6 1485.4,447.9 1510.6,387.3 1535.8,512.5 1561.7,387.3 1586.7,453.9 1612.6,395.4 1622.7,451.9 1637.8,482.2 1655.0,532.7 1671.1,451.9 1681.2,522.6 1690.0,521.9 1697.4,546.0 1704.8,573.9 1714.1,573.9 1730.8,546.0 1740.1,542.3 1747.5,514.5 1755.9,507.1 1765.1,510.8 1773.5,507.1 1781.8,495.9 1790.2,451.4 1799.5,442.1 1808.7,434.7 1816.2,431.0 1823.6,445.8 1832.9,455.1 1842.1,477.4 1857.0,494.1 1866.3,523.8 1883.9,546.0 1893.2,547.9 1901.5,553.5 1909.9,538.6 1927.5,551.6 1944.2,547.9 1960.9,542.3 1968.3,538.6 1977.6,531.2 1985.9,507.1 1994.3,507.1 2003.5,529.3 2011.9,525.6 2020.2,560.9 2027.7,557.2 2036.9,536.8 2053.6,546.0 2070.3,555.3 2088.9,553.5 2096.5,557.2 2104.8,536.8 2113.2,540.5 2121.5,531.2 2129.9,534.9 2139.2,546.0 2147.5,520.1 2155.9,518.2 2164.2,546.0 2172.6,564.6 2180.9,568.3 2190.2,566.4 2197.6,560.9 2206.9,533.0 2215.2,510.8 2223.6,533.0 2231.9,553.5 2240.3,551.6 2248.6,549.7 2257.0,523.8 2265.3,508.9 2274.6,512.6 2282.9,523.8 2291.3,516.3 2299.6,503.4 2308.0,473.7 2316.3,472.7 2324.7,481.1 2333.0,477.4 2342.3,476.5 2350.7,481.1 2359.0,477.4 2368.3,482.9 2376.6,497.8 2385.0,546.0 2394.3,466.3 2403.5,397.6 2416.5,382.8 2427.7,438.4 2435.1,561.8" fill="none" stroke="#9100d8" stroke-width="5.2" stroke-linejoin="round" stroke-linecap="round" />
<polyline points="1357.8,256.1 1382.4,264.1 1406.6,451.9 1433.9,522.6 1459.1,381.2 1485.4,470.1 1510.6,441.8 1525.7,472.1 1543.9,484.2 1561.7,480.2 1586.7,492.3 1612.6,472.1 1622.7,470.1 1630.7,462.0 1646.9,472.1 1655.0,532.7 1671.1,556.9 1687.3,512.5 1690.0,512.6 1697.4,538.6 1714.1,555.3 1722.5,549.7 1730.8,542.3 1739.2,529.3 1747.5,538.6 1755.9,512.6 1766.1,533.0 1773.5,546.0 1781.8,547.0 1791.1,479.2 1799.5,481.1 1808.7,494.1 1816.2,466.3 1826.4,473.7 1833.8,503.4 1842.1,490.4 1849.6,529.3 1857.9,516.3 1866.3,546.0 1875.5,555.3 1883.9,534.9 1893.2,581.3 1901.5,581.3 1909.9,557.2 1919.1,581.3 1927.5,546.0 1934.9,557.2 1944.2,557.2 1951.6,547.9 1960.9,557.2 1968.3,512.6 1977.6,505.2 1985.9,510.8 1994.3,531.2 2003.5,559.0 2011.9,536.8 2020.2,546.0 2027.7,546.0 2036.9,540.5 2046.2,536.8 2053.6,536.8 2062.0,531.2 2070.3,551.6 2078.7,536.8 2088.9,529.3 2096.5,527.5 2104.8,529.3 2113.2,534.9 2121.5,546.0 2129.9,557.2 2139.2,557.2 2147.5,523.8 2155.9,523.8 2164.2,579.4 2172.6,529.3 2180.9,555.3 2190.2,531.2 2197.6,579.4 2206.9,546.0 2215.2,533.0 2223.6,579.4 2231.9,553.5 2240.3,529.3 2248.6,518.2 2257.0,512.6 2265.3,494.1 2274.6,546.0 2282.9,533.0 2291.3,536.8 2299.6,514.5 2308.0,495.9 2316.3,484.8 2324.7,477.4 2333.0,474.6 2342.3,460.7 2350.7,450.5 2359.0,473.7 2368.3,470.0 2376.6,472.7 2385.0,477.4 2394.3,457.0 2403.5,436.6 2411.0,445.8 2418.4,458.8 2427.7,371.6 2435.1,457.0" fill="none" stroke="#f00000" stroke-width="5.2" stroke-linejoin="round" stroke-linecap="round" />
<polyline points="1357.8,270.2 1382.4,243.9 1408.6,441.8 1433.9,548.8 1459.1,421.6 1485.4,462.0 1510.6,371.1 1535.8,506.4 1561.7,399.4 1586.7,470.1 1612.6,423.6 1620.6,462.0 1628.7,425.7 1640.8,451.9 1652.9,565.0 1663.0,423.6 1671.1,548.8 1687.3,506.4 1690.0,521.9 1697.4,546.0 1714.1,570.1 1722.5,557.2 1730.8,544.2 1740.1,540.5 1747.5,512.6 1755.9,505.2 1765.1,510.8 1773.5,507.1 1781.8,495.9 1790.2,464.4 1799.5,453.3 1808.7,434.7 1816.2,431.0 1823.6,445.8 1832.9,455.1 1842.1,481.1 1849.6,481.1 1857.9,490.4 1866.3,516.3 1875.5,540.5 1883.9,566.4 1893.2,546.0 1901.5,560.9 1909.9,546.0 1918.2,553.5 1927.5,549.7 1934.9,540.5 1944.2,542.3 1953.5,547.9 1960.9,540.5 1968.3,538.6 1977.6,533.0 1985.9,507.1 1994.3,507.1 2003.5,529.3 2011.9,540.5 2020.2,560.9 2027.7,553.5 2036.9,533.0 2046.2,544.2 2053.6,544.2 2062.0,546.0 2070.3,570.1 2078.7,540.5 2088.9,551.6 2096.5,557.2 2104.8,536.8 2113.2,540.5 2121.5,531.2 2129.9,534.9 2139.2,546.0 2147.5,518.2 2155.9,514.5 2164.2,546.0 2172.6,564.6 2180.9,568.3 2190.2,566.4 2197.6,559.0 2206.9,531.2 2215.2,507.1 2223.6,533.0 2231.9,553.5 2240.3,549.7 2248.6,547.9 2257.0,523.8 2265.3,507.1 2274.6,512.6 2282.9,525.6 2291.3,518.2 2299.6,507.1 2308.0,492.2 2316.3,473.7 2324.7,481.1 2333.0,477.4 2342.3,476.5 2350.7,481.1 2359.0,477.4 2368.3,482.9 2376.6,512.6 2385.0,551.6 2394.3,475.5 2403.5,405.0 2411.0,390.2 2418.4,375.3 2427.7,431.0 2435.1,547.9" fill="none" stroke="#fbb116" stroke-width="5.2" stroke-linejoin="round" stroke-linecap="round" />
<polyline points="1357.8,341.9 1382.4,432.7 1408.6,443.8 1433.9,469.1 1459.1,410.5 1485.4,498.3 1510.6,433.7 1535.8,453.9 1561.7,472.1 1586.7,456.9 1612.6,514.5 1628.7,443.8 1638.8,542.8 1645.9,567.0 1655.0,567.0 1663.0,510.4 1673.1,506.4 1681.2,512.5 1690.0,482.9 1697.4,544.2 1705.8,542.3 1714.1,568.3 1722.5,553.5 1730.8,542.3 1739.2,553.5 1755.9,553.5 1765.1,568.3 1773.5,531.2 1781.8,531.2 1790.2,507.1 1799.5,520.1 1808.7,466.3 1816.2,461.6 1826.4,494.1 1833.8,515.4 1842.1,481.1 1849.6,512.6 1857.9,538.6 1866.3,516.3 1875.5,499.6 1883.9,518.2 1893.2,521.9 1901.5,553.5 1909.9,551.6 1918.2,542.3 1926.5,562.7 1934.9,531.2 1944.2,531.2 1951.6,553.5 1960.9,534.9 1969.2,495.9 1977.6,529.3 1985.9,470.0 1994.3,486.7 2003.5,529.3 2011.9,521.9 2020.2,520.1 2027.7,546.0 2036.9,564.6 2046.2,553.5 2053.6,568.3 2062.0,566.4 2070.3,544.2 2078.7,531.2 2088.9,534.9 2096.5,544.2 2104.8,529.3 2113.2,523.8 2121.5,529.3 2129.9,555.3 2139.2,553.5 2147.5,534.9 2155.9,520.1 2164.2,536.8 2172.6,553.5 2180.9,525.6 2190.2,553.5 2197.6,531.2 2206.9,555.3 2215.2,542.3 2223.6,557.2 2231.9,538.6 2240.3,496.9 2248.6,516.3 2257.0,534.9 2265.3,516.3 2274.6,534.9 2282.9,477.4 2291.3,499.6 2299.6,486.7 2308.0,507.1 2316.3,505.2 2324.7,481.1 2333.0,497.8 2342.3,527.5 2350.7,510.8 2359.0,523.8 2368.3,527.5 2376.6,520.1 2385.0,523.8 2394.3,546.0 2401.7,566.4 2411.0,520.1 2418.4,527.5 2427.7,520.1 2435.1,399.5" fill="none" stroke="#0e8b8b" stroke-width="5.2" stroke-linejoin="round" stroke-linecap="round" />
<polyline points="1357.0,767.5 1377.5,770.0 1402.5,777.5 1427.5,781.2 1445.0,780.0 1465.0,776.2 1480.0,778.8 1500.0,792.5 1515.0,798.8 1535.0,805.0 1552.5,806.2 1562.5,806.2 1580.0,812.5 1597.5,822.5 1615.0,832.5 1630.0,838.8 1647.5,842.5 1665.0,846.2 1675.0,847.5 1690.0,855.0 1710.0,867.5 1725.0,881.2 1740.0,882.5 1750.0,885.0 1757.5,890.0 1765.0,886.2 1780.0,892.5 1795.0,897.5 1810.0,903.8 1827.5,906.2 1845.0,910.0 1865.0,906.2 1879.0,907.5 1899.0,911.2 1921.5,920.0 1949.0,925.0 1969.0,931.2 1989.0,932.5 2004.0,945.0 2019.0,960.0 2039.0,980.0 2049.0,990.0 2069.0,997.5 2084.0,1002.5 2104.0,997.5 2119.0,998.8 2144.0,992.5 2159.0,995.0 2174.0,1000.0 2199.0,996.2 2224.0,1008.8 2249.0,1011.2 2266.5,1010.0 2284.0,1012.5 2309.0,1012.5 2334.0,1011.2 2349.0,1007.5 2360.6,1003.0 2369.0,1000.0 2372.2,998.6 2386.6,997.2 2401.0,988.5 2409.7,981.3 2419.8,974.1 2429.9,964.0 2438.5,943.8 2444.3,925.0" fill="none" stroke="#0000f0" stroke-width="5.2" stroke-linejoin="round" stroke-linecap="round" />
<polyline points="1357.0,770.8 1375.0,773.2 1390.0,778.2 1410.0,785.8 1427.5,787.0 1445.0,783.2 1457.5,787.0 1467.5,782.0 1480.0,787.0 1495.0,794.5 1515.0,802.0 1535.0,809.5 1552.5,814.5 1565.0,817.0 1577.5,820.8 1590.0,828.2 1605.0,840.8 1620.0,850.8 1635.0,855.8 1650.0,859.5 1665.0,863.2 1672.5,864.5 1680.0,880.8 1687.5,898.2 1700.0,908.2 1715.0,918.2 1725.0,925.8 1740.0,927.0 1755.0,935.8 1765.0,928.2 1775.0,914.5 1790.0,917.0 1805.0,923.2 1820.0,933.2 1830.0,940.8 1847.5,938.2 1860.0,943.2 1870.0,953.2 1889.0,968.5 1904.0,978.5 1921.5,993.5 1941.5,1011.0 1966.5,1026.0 1991.5,1041.0 2019.0,1053.5 2044.0,1068.5 2061.5,1071.0 2079.0,1074.8 2086.5,1064.8 2104.0,1067.2 2124.0,1073.5 2141.5,1076.0 2159.0,1083.5 2172.8,1091.0 2181.5,1089.8 2199.0,1102.2 2216.5,1111.0 2234.0,1121.0 2249.0,1127.2 2264.0,1127.2 2276.5,1106.0 2289.0,1108.5 2304.0,1097.2 2316.5,1094.8 2329.0,1098.5 2344.0,1106.0 2354.0,1109.8 2366.5,1116.2 2373.6,1099.6 2377.2,1066.5 2380.8,1040.5 2386.6,1027.5 2401.0,1017.4 2414.0,991.4 2427.0,968.3 2445.0,945.2" fill="none" stroke="#999999" stroke-width="5.2" stroke-linejoin="round" stroke-linecap="round" />
<polyline points="1357.0,771.2 1375.0,773.8 1390.0,778.8 1410.0,786.2 1427.5,787.5 1445.0,783.8 1457.5,787.5 1467.5,782.5 1480.0,787.5 1495.0,795.0 1515.0,802.5 1535.0,810.0 1552.5,815.0 1565.0,817.5 1577.5,821.2 1590.0,828.8 1605.0,841.2 1620.0,851.2 1635.0,856.2 1650.0,860.0 1665.0,863.8 1672.5,865.0 1680.0,881.2 1687.5,898.8 1700.0,908.8 1715.0,918.8 1725.0,926.2 1740.0,927.5 1755.0,936.2 1765.0,928.8 1775.0,915.0 1790.0,917.5 1805.0,923.8 1820.0,933.8 1830.0,941.2 1847.5,938.8 1860.0,943.8 1870.0,953.8 1889.0,969.0 1904.0,979.0 1921.5,994.0 1941.5,1011.5 1966.5,1026.5 1991.5,1041.5 2019.0,1054.0 2044.0,1069.0 2061.5,1071.5 2079.0,1075.2 2086.5,1065.2 2104.0,1067.8 2124.0,1074.0 2141.5,1076.5 2159.0,1084.0 2172.8,1091.5 2181.5,1090.2 2199.0,1102.8 2216.5,1111.5 2234.0,1121.5 2249.0,1127.8 2264.0,1127.8 2276.5,1106.5 2289.0,1109.0 2304.0,1097.8 2316.5,1095.2 2329.0,1099.0 2344.0,1106.5 2354.0,1110.2 2366.5,1113.8 2372.9,1099.6 2376.5,1066.5 2380.8,1037.6 2386.6,1023.2 2395.2,1015.9 2403.9,1005.8 2414.0,987.1 2422.7,971.2 2437.1,952.5 2445.0,943.8" fill="none" stroke="#9100d8" stroke-width="5.2" stroke-linejoin="round" stroke-linecap="round" />
<polyline points="1357.0,770.0 1375.0,772.5 1390.0,777.5 1410.0,785.0 1427.5,786.2 1445.0,782.5 1457.5,786.2 1467.5,781.2 1480.0,786.2 1495.0,793.8 1515.0,801.2 1535.0,808.8 1552.5,813.8 1565.0,816.2 1577.5,820.0 1590.0,827.5 1605.0,840.0 1620.0,850.0 1635.0,855.0 1650.0,858.8 1665.0,862.5 1672.5,863.8 1680.0,880.0 1687.5,897.5 1700.0,907.5 1715.0,917.5 1725.0,925.0 1740.0,926.2 1755.0,935.0 1765.0,927.5 1775.0,913.8 1790.0,916.2 1805.0,922.5 1820.0,932.5 1830.0,940.0 1847.5,937.5 1860.0,942.5 1870.0,952.5 1889.0,967.5 1904.0,977.5 1921.5,992.5 1941.5,1010.0 1966.5,1025.0 1991.5,1040.0 2019.0,1052.5 2044.0,1067.5 2061.5,1070.0 2079.0,1073.8 2086.5,1063.8 2104.0,1066.2 2124.0,1072.5 2141.5,1075.0 2159.0,1082.5 2172.8,1090.0 2181.5,1088.8 2199.0,1101.2 2216.5,1110.0 2234.0,1120.0 2249.0,1126.2 2264.0,1126.2 2276.5,1105.0 2289.0,1107.5 2304.0,1096.2 2316.5,1093.8 2329.0,1097.5 2344.0,1105.0 2354.0,1108.8 2366.5,1105.0 2369.3,1099.6 2372.2,1066.5 2377.9,1037.6 2383.7,1020.3 2392.4,1011.6 2401.0,1005.1 2406.8,994.3 2414.0,979.9 2422.7,964.0 2429.9,956.8 2438.5,949.6 2445.0,940.9" fill="none" stroke="#fbb116" stroke-width="5.2" stroke-linejoin="round" stroke-linecap="round" />
<polyline points="1357.0,766.2 1372.5,768.8 1390.0,775.0 1410.0,781.2 1427.5,783.8 1445.0,780.0 1465.0,777.5 1480.0,780.0 1495.0,787.5 1515.0,797.5 1535.0,806.2 1552.5,810.0 1565.0,812.5 1577.5,816.2 1590.0,825.0 1605.0,835.0 1620.0,845.0 1635.0,850.0 1652.5,855.0 1672.5,858.8 1680.0,867.5 1700.0,880.0 1720.0,890.0 1735.0,895.0 1750.0,901.2 1765.0,898.8 1780.0,905.0 1800.0,912.5 1820.0,920.0 1840.0,923.8 1860.0,920.0 1879.0,917.5 1899.0,921.2 1919.0,932.5 1934.0,937.5 1944.0,932.5 1954.0,926.2 1969.0,930.0 1989.0,945.0 2004.0,965.0 2019.0,992.5 2034.0,1005.0 2044.0,1017.5 2054.0,1027.5 2074.0,1026.2 2079.0,1028.8 2089.0,1021.2 2104.0,1016.2 2119.0,1012.5 2134.0,1008.8 2146.5,1012.5 2154.0,1003.8 2164.0,996.2 2174.0,1000.0 2199.0,1000.0 2211.5,1010.0 2224.0,1030.0 2239.0,1027.5 2254.0,1027.5 2279.0,1021.2 2304.0,1017.5 2329.0,1012.5 2349.0,1012.5 2362.0,1007.3 2369.0,1003.8 2375.0,1003.0 2386.6,1000.1 2398.1,1001.5 2409.7,995.7 2422.7,982.8 2429.9,972.7 2438.5,951.0 2445.0,933.7" fill="none" stroke="#00f000" stroke-width="5.2" stroke-linejoin="round" stroke-linecap="round" />
<polyline points="1357.0,775.0 1365.0,770.0 1385.0,772.5 1405.0,777.5 1427.5,780.0 1445.0,783.8 1460.0,782.5 1472.5,786.2 1485.0,793.8 1500.0,801.2 1515.0,806.2 1530.0,808.8 1545.0,810.0 1565.0,811.2 1580.0,815.0 1590.0,817.5 1602.5,827.5 1617.5,837.5 1635.0,842.5 1655.0,847.5 1672.5,855.0 1680.0,865.0 1687.5,880.0 1700.0,890.0 1720.0,897.5 1740.0,906.2 1755.0,912.5 1765.0,882.5 1775.0,890.0 1790.0,897.5 1800.0,908.8 1815.0,915.0 1830.0,923.8 1845.0,930.0 1865.0,930.0 1879.0,930.0 1899.0,940.0 1911.5,955.0 1929.0,975.0 1944.0,983.8 1961.5,991.2 1979.0,991.2 1986.5,990.0 2004.0,995.0 2019.0,997.5 2034.0,1010.0 2046.5,1023.8 2061.5,1022.5 2070.2,1006.2 2079.0,1013.8 2091.5,1012.5 2111.5,1018.8 2129.0,1023.8 2144.0,1023.8 2164.0,1020.0 2174.0,1030.0 2189.0,1045.0 2206.5,1067.5 2221.5,1072.5 2236.5,1086.2 2246.5,1092.5 2254.0,1105.0 2264.0,1120.0 2274.0,1090.0 2284.0,1100.0 2294.0,1095.0 2309.0,1075.0 2321.5,1063.8 2334.0,1065.0 2346.5,1072.5 2354.0,1070.0 2367.2,1057.5 2369.3,1023.2 2371.4,979.9 2375.0,942.4 2380.8,935.1 2389.5,932.3 2401.0,929.4 2409.7,923.6 2418.3,912.0 2425.5,900.5 2434.2,893.3 2444.3,883.2" fill="none" stroke="#f00000" stroke-width="5.2" stroke-linejoin="round" stroke-linecap="round" />
<polyline points="1357.0,760.0 1375.0,761.2 1390.0,766.2 1405.0,771.2 1422.5,775.0 1440.0,776.2 1450.0,772.5 1467.5,772.5 1480.0,777.5 1502.5,790.0 1520.0,796.2 1535.0,800.0 1545.0,795.0 1562.5,798.8 1572.5,803.8 1585.0,805.0 1597.5,810.0 1612.5,820.0 1627.5,826.2 1640.0,827.5 1647.5,830.0 1657.5,826.2 1670.0,825.0 1680.0,823.8 1700.0,833.8 1715.0,838.8 1727.5,837.5 1740.0,841.2 1747.5,831.2 1765.0,828.8 1787.5,833.8 1802.5,840.0 1815.0,846.2 1827.5,847.5 1840.0,847.5 1850.0,837.5 1862.5,836.2 1870.0,840.0 1879.0,840.0 1899.0,848.8 1919.0,858.8 1936.5,862.5 1959.0,861.2 1979.0,868.8 2001.5,873.8 2019.0,885.0 2039.0,885.0 2054.0,890.0 2071.5,886.2 2089.0,890.0 2111.5,898.8 2129.0,901.2 2149.0,902.5 2164.0,903.8 2179.0,910.0 2201.5,920.0 2229.0,932.5 2246.5,931.2 2259.0,941.2 2274.0,938.8 2289.0,943.8 2309.0,947.5 2326.5,943.8 2344.0,943.8 2359.1,948.8 2368.4,942.5 2376.5,939.5 2386.6,935.9 2401.0,932.3 2414.0,930.1 2424.1,925.0 2432.8,913.5 2438.5,904.8 2444.3,896.9" fill="none" stroke="#0e8b8b" stroke-width="5.2" stroke-linejoin="round" stroke-linecap="round" />
<polyline points="1357.0,792.5 1433.8,792.5 1458.8,808.8 1485.0,808.8 1510.0,833.8 1535.0,863.8 1562.5,863.8 1587.5,882.0 1612.5,892.5 1656.2,891.2 1663.8,920.0 1756.2,918.8 1765.0,947.5 1870.0,947.5 1879.0,945.0 1885.2,945.0 1890.2,1002.5 1935.2,1001.2 1942.8,1057.5 1959.0,1057.5 1967.8,1085.0 1977.8,1085.0 1985.2,1141.2 2011.5,1141.2 2019.0,1168.8 2171.5,1168.8 2179.0,1140.0 2265.2,1140.0 2272.8,1112.5 2284.0,1112.5 2290.2,1086.2 2344.0,1086.2 2351.5,1056.2 2391.9,1057.0 2401.2,1028.6 2419.8,1029.7 2427.0,1005.8 2431.3,985.6 2433.5,951.0 2435.6,919.3 2454.4,919.3" fill="none" stroke="#000000" stroke-width="7.5" stroke-linejoin="round" stroke-linecap="round" />
<polyline points="1356.2,1851.6 1370.0,1853.9 1383.9,1851.6 1395.4,1858.5 1409.2,1864.3 1418.5,1858.5 1427.7,1858.5 1436.9,1849.3 1448.5,1847.0 1460.0,1840.1 1471.6,1828.5 1483.1,1814.7 1497.0,1800.8 1506.2,1803.1 1517.7,1817.0 1527.0,1821.6 1536.2,1821.6 1544.3,1833.1 1552.3,1814.7 1561.6,1810.1 1570.8,1797.4 1577.7,1803.1 1587.0,1817.0 1596.2,1803.1 1607.7,1787.0 1620.4,1774.3 1630.8,1780.1 1637.7,1780.1 1647.0,1805.4 1658.5,1796.2 1672.4,1784.7 1686.2,1777.7 1700.1,1774.3 1707.0,1774.3 1716.2,1782.4 1727.8,1784.7 1739.0,1789.4 1748.2,1804.2 1757.5,1796.8 1764.9,1794.9 1774.2,1794.9 1783.5,1797.7 1792.8,1797.7 1800.2,1797.7 1807.6,1795.8 1816.9,1798.6 1826.2,1794.9 1833.6,1791.2 1841.9,1787.5 1850.3,1801.4 1857.7,1781.0 1867.0,1775.4 1875.3,1760.6 1883.7,1779.1 1892.9,1771.7 1902.2,1782.9 1909.6,1784.7 1918.9,1781.9 1926.3,1784.7 1934.7,1791.2 1943.0,1788.4 1952.3,1775.4 1960.7,1768.0 1968.1,1772.7 1976.4,1769.9 1983.9,1777.3 1993.1,1781.0 2002.4,1774.5 2011.7,1768.0 2021.0,1777.3 2028.4,1784.7 2035.8,1785.6 2045.1,1777.3 2053.4,1766.2 2061.8,1762.4 2071.1,1773.6 2078.5,1783.8 2087.8,1781.0 2098.9,1769.9 2113.8,1768.2 2130.0,1768.8 2155.4,1767.0 2171.6,1769.3 2180.8,1755.5 2190.0,1750.8 2201.6,1748.5 2215.4,1750.8 2229.3,1745.1 2238.5,1743.9 2247.7,1750.8 2257.0,1748.5 2266.2,1740.5 2275.4,1746.2 2284.7,1730.1 2296.2,1727.8 2307.7,1727.8 2317.0,1720.8 2326.2,1726.6 2335.4,1737.0 2344.7,1732.4 2358.5,1723.1 2365.4,1743.9 2366.9,1747.3 2375.0,1750.2 2383.7,1754.0 2392.1,1757.3 2400.4,1745.6 2408.8,1735.6 2417.2,1737.2 2423.8,1759.0 2430.5,1777.4 2437.2,1794.1 2443.9,1817.6" fill="none" stroke="#0e8b8b" stroke-width="5.2" stroke-linejoin="round" stroke-linecap="round" />
<polyline points="1356.2,1843.5 1367.7,1843.5 1381.5,1826.2 1393.1,1823.9 1402.3,1826.2 1409.2,1812.4 1418.5,1823.9 1425.4,1795.1 1439.2,1790.4 1455.4,1788.1 1464.6,1782.4 1476.2,1761.6 1487.7,1763.9 1501.6,1775.4 1510.8,1780.1 1524.7,1766.2 1529.3,1777.7 1538.5,1754.7 1545.4,1757.0 1554.7,1740.8 1563.9,1724.7 1570.8,1705.0 1580.0,1699.3 1587.0,1683.1 1598.5,1683.1 1607.7,1690.0 1621.6,1669.3 1633.1,1678.5 1640.1,1685.4 1649.3,1684.3 1663.1,1683.1 1672.4,1655.4 1683.9,1623.1 1695.5,1604.6 1704.7,1623.1 1713.9,1598.9 1723.2,1627.7 1730.1,1646.2 1738.5,1647.0 1747.7,1642.4 1756.9,1607.7 1766.2,1610.0 1773.1,1642.4 1784.6,1640.1 1798.5,1626.2 1807.7,1640.1 1816.9,1619.3 1826.2,1591.6 1833.1,1566.2 1842.3,1596.2 1849.3,1626.2 1858.5,1596.2 1867.7,1610.0 1877.0,1577.7 1883.9,1563.9 1890.8,1591.6 1897.7,1598.5 1904.7,1587.0 1913.9,1580.0 1923.1,1591.6 1932.3,1577.7 1941.6,1559.3 1950.8,1554.7 1960.0,1559.3 1968.1,1575.4 1976.2,1552.3 1985.4,1547.7 1994.7,1561.6 2003.9,1584.7 2010.8,1580.0 2020.1,1582.3 2029.3,1589.3 2038.5,1584.7 2047.8,1591.6 2057.0,1587.0 2066.2,1573.1 2073.1,1563.9 2080.1,1552.3 2089.3,1563.9 2096.2,1573.1 2113.8,1573.1 2123.1,1577.7 2134.6,1582.3 2146.2,1583.5 2155.4,1577.7 2164.6,1563.9 2172.7,1545.4 2180.8,1544.3 2190.0,1536.2 2198.1,1540.8 2208.5,1529.3 2215.4,1506.2 2223.5,1529.3 2231.6,1495.8 2240.8,1503.9 2247.7,1492.3 2257.0,1485.4 2266.2,1492.3 2275.4,1503.9 2284.7,1527.0 2291.6,1540.8 2298.5,1563.9 2307.7,1584.7 2317.0,1597.4 2326.2,1593.9 2335.4,1591.6 2344.7,1598.5 2353.9,1600.8 2363.1,1603.1 2372.4,1610.0 2377.0,1617.0 2386.2,1614.7 2393.1,1589.3 2402.4,1600.8 2409.3,1603.1 2418.5,1623.9 2427.5,1713.5 2435.6,1742.3 2444.8,1753.1" fill="none" stroke="#999999" stroke-width="5.2" stroke-linejoin="round" stroke-linecap="round" />
<polyline points="1356.2,1842.4 1370.0,1840.1 1381.5,1835.5 1390.8,1830.8 1400.0,1840.1 1409.2,1848.1 1416.2,1814.7 1427.7,1807.8 1439.2,1812.4 1448.5,1805.4 1464.6,1793.9 1476.2,1782.4 1487.7,1791.6 1499.3,1798.5 1510.8,1793.9 1522.3,1798.5 1536.2,1789.3 1547.7,1789.3 1557.0,1780.1 1568.5,1750.1 1577.7,1745.4 1587.0,1738.5 1596.2,1729.3 1605.4,1738.5 1617.0,1740.8 1628.5,1743.1 1637.7,1743.1 1649.3,1740.8 1660.8,1738.5 1667.8,1717.7 1677.0,1683.1 1683.9,1676.2 1695.5,1676.2 1702.4,1680.8 1711.6,1708.5 1720.8,1706.2 1730.1,1727.0 1738.5,1725.5 1747.7,1697.8 1754.6,1681.6 1763.9,1693.1 1773.1,1688.5 1780.0,1688.5 1789.2,1697.8 1798.5,1709.3 1807.7,1713.9 1816.9,1693.1 1826.2,1667.7 1833.1,1651.6 1840.0,1670.1 1849.3,1707.0 1858.5,1690.8 1867.7,1683.9 1877.0,1670.1 1886.2,1683.9 1895.4,1683.9 1904.7,1674.7 1909.3,1658.5 1916.2,1672.4 1923.1,1679.3 1932.3,1674.7 1941.6,1649.3 1950.8,1651.6 1960.0,1647.0 1968.1,1649.3 1976.2,1619.3 1983.1,1621.6 1990.1,1635.4 1997.0,1667.7 2006.2,1658.5 2013.1,1640.1 2020.1,1665.4 2029.3,1647.0 2038.5,1637.7 2047.8,1656.2 2057.0,1656.2 2066.2,1640.1 2075.5,1635.4 2084.7,1626.2 2093.9,1628.5 2113.8,1637.7 2123.1,1651.6 2132.3,1660.8 2141.5,1667.7 2150.8,1663.1 2160.0,1658.5 2169.2,1651.6 2178.5,1635.4 2187.7,1619.3 2199.2,1623.9 2210.8,1619.3 2222.3,1612.4 2231.6,1561.6 2240.8,1591.6 2250.0,1554.7 2259.3,1573.1 2266.2,1598.5 2275.4,1612.4 2284.7,1598.5 2291.6,1610.0 2298.5,1647.0 2307.7,1656.2 2317.0,1672.4 2323.9,1665.4 2333.1,1670.1 2342.4,1681.6 2349.3,1681.6 2358.5,1677.0 2367.7,1683.9 2377.0,1693.1 2385.4,1698.7 2392.1,1610.0 2400.4,1636.8 2408.8,1613.4 2415.5,1675.3 2420.5,1717.2 2427.2,1738.9 2435.6,1742.3 2443.9,1745.6" fill="none" stroke="#fbb116" stroke-width="5.2" stroke-linejoin="round" stroke-linecap="round" />
<polyline points="1356.2,1837.8 1370.0,1835.5 1381.5,1840.1 1393.1,1837.8 1402.3,1844.7 1416.2,1847.0 1427.7,1842.4 1434.6,1817.0 1443.9,1819.3 1455.4,1826.2 1462.3,1817.0 1476.2,1791.6 1485.4,1782.4 1494.6,1791.6 1503.9,1814.7 1513.1,1812.4 1520.0,1807.8 1529.3,1807.8 1538.5,1798.5 1547.7,1784.7 1557.0,1780.1 1566.2,1777.7 1577.7,1770.8 1589.3,1777.7 1600.8,1757.0 1612.4,1752.4 1621.6,1763.9 1630.8,1752.4 1638.9,1768.5 1647.0,1752.4 1653.9,1720.0 1663.1,1699.3 1672.4,1713.1 1681.6,1687.7 1690.8,1664.7 1700.1,1669.3 1709.3,1676.2 1718.5,1697.0 1727.8,1687.7 1738.5,1681.6 1747.7,1677.0 1756.9,1663.1 1765.0,1711.6 1775.4,1697.8 1784.6,1693.1 1796.2,1695.4 1807.7,1690.8 1816.9,1690.8 1826.2,1683.9 1835.4,1667.7 1842.3,1660.8 1849.3,1688.5 1858.5,1663.1 1867.7,1672.4 1877.0,1681.6 1886.2,1686.2 1895.4,1679.3 1904.7,1670.1 1913.9,1665.4 1923.1,1663.1 1932.3,1656.2 1941.6,1644.7 1950.8,1642.4 1960.0,1635.4 1968.1,1663.1 1976.2,1647.0 1985.4,1656.2 1994.7,1665.4 2003.9,1663.1 2013.1,1642.4 2022.4,1647.0 2029.3,1633.1 2038.5,1626.2 2047.8,1630.8 2054.7,1637.7 2063.9,1623.9 2073.1,1614.7 2080.1,1635.4 2087.0,1649.3 2096.2,1628.5 2113.8,1623.9 2123.1,1633.1 2132.3,1651.6 2139.2,1651.6 2146.2,1633.1 2155.4,1649.3 2164.6,1651.6 2171.6,1610.0 2180.8,1607.7 2194.6,1607.7 2206.2,1568.5 2215.4,1603.1 2224.6,1568.5 2233.9,1573.1 2243.1,1559.3 2250.0,1531.6 2257.0,1506.2 2263.9,1527.0 2270.8,1554.7 2277.7,1596.2 2284.7,1603.1 2291.6,1566.2 2298.5,1582.3 2303.1,1593.9 2312.3,1591.6 2317.0,1614.7 2326.2,1612.4 2335.4,1612.4 2342.4,1644.7 2351.6,1647.0 2358.5,1642.4 2367.7,1647.0 2375.3,1702.1 2377.0,1700.1 2380.3,1698.7 2392.1,1666.9 2400.4,1688.7 2408.8,1697.1 2417.2,1700.4 2422.2,1750.6 2427.2,1807.5 2433.9,1805.9 2440.6,1812.6 2444.8,1815.9" fill="none" stroke="#f00000" stroke-width="5.2" stroke-linejoin="round" stroke-linecap="round" />
<polyline points="1356.2,1836.6 1370.0,1830.8 1379.2,1819.3 1391.9,1803.1 1401.2,1817.0 1409.2,1812.4 1418.5,1823.9 1427.7,1805.4 1439.2,1812.4 1450.8,1817.0 1460.0,1803.1 1473.9,1791.6 1485.4,1773.1 1497.0,1789.3 1510.8,1784.7 1522.3,1773.1 1531.6,1787.0 1540.8,1807.8 1550.0,1803.1 1561.6,1768.5 1570.8,1733.9 1580.0,1703.9 1589.3,1720.0 1593.9,1699.3 1603.1,1724.7 1617.0,1717.7 1621.6,1713.1 1630.8,1683.1 1637.7,1660.0 1649.3,1692.3 1658.5,1710.8 1667.8,1708.5 1672.4,1718.9 1681.6,1697.0 1693.1,1692.3 1700.1,1680.8 1711.6,1676.2 1720.8,1664.7 1730.1,1671.6 1738.5,1656.2 1747.7,1614.7 1754.6,1619.3 1763.9,1642.4 1774.2,1617.0 1782.3,1637.7 1791.6,1644.7 1800.8,1658.5 1810.0,1670.1 1819.2,1656.2 1828.5,1640.1 1837.7,1612.4 1844.6,1640.1 1856.2,1628.5 1867.7,1644.7 1877.0,1637.7 1886.2,1635.4 1893.1,1633.1 1902.3,1647.0 1911.6,1635.4 1918.5,1635.4 1925.4,1647.0 1932.3,1665.4 1937.0,1674.7 1943.9,1663.1 1950.8,1642.4 1960.0,1637.7 1969.3,1626.2 1978.5,1630.8 1985.4,1677.0 1994.7,1700.1 2001.6,1681.6 2010.8,1647.0 2020.1,1642.4 2029.3,1598.5 2038.5,1584.7 2047.8,1585.8 2054.7,1591.6 2061.6,1612.4 2070.8,1607.7 2080.1,1607.7 2089.3,1603.1 2096.2,1598.5 2113.8,1628.5 2118.5,1635.4 2127.7,1644.7 2136.9,1647.0 2146.2,1642.4 2155.4,1642.4 2162.3,1630.8 2171.6,1626.2 2180.8,1647.0 2190.0,1658.5 2199.2,1647.0 2208.5,1642.4 2222.3,1649.3 2232.7,1610.0 2240.8,1640.1 2250.0,1649.3 2257.0,1651.6 2266.2,1623.9 2275.4,1635.4 2284.7,1653.9 2293.9,1651.6 2303.1,1637.7 2312.3,1635.4 2321.6,1626.2 2330.8,1640.1 2342.4,1651.6 2351.6,1647.0 2358.5,1623.9 2367.7,1621.6 2377.0,1656.2 2380.3,1616.7 2387.0,1633.5 2393.7,1655.2 2400.4,1683.7 2405.4,1697.1 2410.5,1715.5 2415.5,1680.3 2423.8,1666.9 2430.5,1700.4 2438.9,1750.6 2444.8,1764.9" fill="none" stroke="#0000f0" stroke-width="5.2" stroke-linejoin="round" stroke-linecap="round" />
<polyline points="1356.2,1853.9 1370.0,1851.6 1383.9,1844.7 1395.4,1835.5 1406.9,1837.8 1418.5,1835.5 1430.0,1837.8 1439.2,1833.1 1450.8,1828.5 1462.3,1828.5 1476.2,1817.0 1487.7,1807.8 1499.3,1793.9 1510.8,1759.3 1517.7,1773.1 1524.7,1784.7 1531.6,1796.2 1538.5,1807.8 1543.1,1812.4 1547.7,1807.8 1554.7,1782.4 1563.9,1763.9 1570.8,1747.7 1577.7,1743.1 1587.0,1750.1 1596.2,1745.4 1605.4,1745.4 1614.7,1745.4 1621.6,1727.0 1630.8,1725.8 1637.7,1708.5 1647.0,1731.6 1653.9,1745.4 1663.1,1757.0 1672.4,1731.6 1679.3,1724.7 1688.5,1736.2 1697.8,1727.0 1709.3,1701.6 1718.5,1706.2 1730.1,1687.7 1738.5,1651.6 1748.9,1635.4 1756.9,1667.7 1765.0,1707.0 1773.1,1690.8 1782.3,1681.6 1791.6,1693.1 1799.6,1700.1 1810.0,1681.6 1819.2,1663.1 1826.2,1658.5 1835.4,1670.1 1842.3,1663.1 1851.6,1665.4 1858.5,1704.7 1867.7,1713.9 1877.0,1700.1 1886.2,1720.8 1895.4,1725.5 1902.3,1713.9 1909.3,1665.4 1918.5,1672.4 1927.7,1674.7 1937.0,1697.8 1943.9,1704.7 1950.8,1734.7 1962.4,1730.1 1969.3,1725.5 1976.2,1741.6 1985.4,1753.2 1994.7,1730.1 2003.9,1688.5 2010.8,1635.4 2020.1,1617.0 2029.3,1607.7 2038.5,1605.4 2045.4,1580.0 2053.5,1554.7 2059.3,1593.9 2066.2,1614.7 2075.5,1621.6 2087.0,1612.4 2096.2,1623.9 2115.0,1617.0 2121.9,1690.8 2130.0,1656.2 2139.2,1617.0 2148.5,1660.8 2155.4,1725.5 2162.3,1709.3 2171.6,1709.3 2180.8,1700.1 2190.0,1718.5 2198.1,1734.7 2206.2,1670.1 2215.4,1637.7 2224.6,1683.9 2233.9,1674.7 2240.8,1663.1 2247.7,1637.7 2259.3,1623.9 2268.5,1630.8 2277.7,1642.4 2284.7,1658.5 2293.9,1653.9 2300.8,1628.5 2307.7,1637.7 2317.0,1667.7 2323.9,1674.7 2333.1,1656.2 2342.4,1667.7 2349.3,1630.8 2358.5,1640.1 2367.7,1623.9 2377.0,1603.1 2378.7,1600.0 2383.7,1626.8 2390.4,1613.4 2395.4,1650.2 2402.1,1707.1 2408.8,1683.7 2415.5,1650.2 2420.5,1623.4 2427.2,1650.2 2432.2,1700.4 2437.2,1782.4 2444.8,1784.1" fill="none" stroke="#00f000" stroke-width="5.2" stroke-linejoin="round" stroke-linecap="round" />
<polyline points="1356.2,1867.8 1370.0,1856.2 1381.5,1844.7 1393.1,1842.4 1402.3,1840.1 1409.2,1844.7 1418.5,1833.1 1425.4,1803.1 1432.3,1800.8 1441.6,1807.8 1448.5,1821.6 1455.4,1826.2 1464.6,1817.0 1473.9,1793.9 1478.5,1789.3 1487.7,1796.2 1497.0,1805.4 1506.2,1803.1 1515.4,1798.5 1527.0,1796.2 1533.9,1787.0 1543.1,1766.2 1552.3,1768.5 1561.6,1775.4 1568.5,1757.0 1577.7,1748.9 1589.3,1745.4 1598.5,1740.8 1610.1,1733.9 1619.3,1731.6 1628.5,1743.1 1637.7,1750.1 1647.0,1753.5 1656.2,1736.2 1663.1,1722.4 1670.1,1687.7 1679.3,1641.6 1688.5,1618.5 1697.8,1637.0 1709.3,1662.3 1716.2,1667.0 1723.2,1664.7 1730.1,1701.6 1739.6,1727.8 1747.7,1697.8 1756.9,1660.8 1763.9,1663.1 1773.1,1688.5 1780.0,1677.0 1789.2,1667.7 1798.5,1677.0 1807.7,1693.1 1816.9,1670.1 1826.2,1623.9 1833.1,1587.0 1842.3,1598.5 1851.6,1644.7 1858.5,1623.9 1867.7,1626.2 1877.0,1580.0 1883.9,1577.7 1890.8,1610.0 1902.3,1633.1 1909.3,1591.6 1918.5,1584.7 1927.7,1596.2 1934.7,1582.3 1943.9,1559.3 1953.1,1561.6 1962.4,1545.4 1969.3,1538.5 1976.2,1508.5 1985.4,1485.4 1994.7,1522.3 2003.9,1524.6 2013.1,1540.8 2020.1,1554.7 2027.0,1568.5 2036.2,1533.9 2045.4,1531.6 2052.4,1527.0 2061.6,1517.7 2073.1,1515.4 2080.1,1510.8 2087.0,1501.6 2096.2,1536.2 2113.8,1506.2 2121.9,1520.0 2130.0,1540.8 2139.2,1550.0 2148.5,1566.2 2155.4,1563.9 2162.3,1536.2 2171.6,1522.3 2180.8,1487.7 2196.9,1487.7 2206.2,1466.9 2213.1,1423.1 2223.5,1441.6 2231.6,1409.2 2240.8,1416.2 2250.0,1376.9 2259.3,1376.9 2266.2,1418.5 2275.4,1425.4 2284.7,1457.7 2291.6,1464.6 2298.5,1527.0 2307.7,1533.9 2317.0,1559.3 2323.9,1570.8 2333.1,1596.2 2342.4,1603.1 2350.4,1607.7 2359.7,1582.3 2368.9,1596.2 2377.0,1658.5 2385.1,1688.5 2393.1,1529.3 2402.4,1529.3 2410.4,1577.7 2418.5,1635.4 2426.9,1736.0 2435.6,1738.9 2444.8,1748.1" fill="none" stroke="#9100d8" stroke-width="5.2" stroke-linejoin="round" stroke-linecap="round" />
<polyline points="1356.2,1830.8 1433.5,1830.8 1457.7,1806.6 1486.6,1806.6 1501.6,1787.0 1515.4,1766.2 1535.0,1747.7 1561.6,1747.7 1584.7,1713.1 1612.4,1690.0 1656.2,1690.0 1663.1,1655.4 1730.1,1655.4 1754.6,1656.2 1765.0,1630.8 1883.9,1630.8 1892.0,1573.1 1934.7,1573.1 1942.7,1514.3 1962.4,1514.3 1968.1,1478.5 1975.0,1478.5 1984.3,1433.5 2012.0,1433.5 2018.9,1397.7 2100.4,1398.3 2172.7,1398.9 2179.6,1433.5 2266.2,1433.5 2273.1,1457.7 2284.7,1457.7 2291.6,1478.5 2298.5,1515.4 2342.4,1515.4 2349.3,1551.2 2392.0,1551.2 2400.1,1573.1 2418.5,1573.1 2425.4,1596.2 2430.1,1623.9 2435.8,1690.8 2454.3,1690.8" fill="none" stroke="#000000" stroke-width="7.5" stroke-linejoin="round" stroke-linecap="round" />
</svg></body></html>
